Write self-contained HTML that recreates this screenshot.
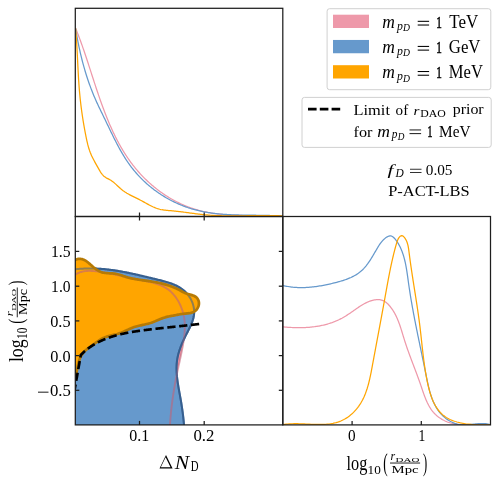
<!DOCTYPE html>
<html><head><meta charset="utf-8"><style>
html,body{margin:0;padding:0;background:#fff;}
body{width:499px;height:486px;overflow:hidden;}
svg{display:block;will-change:transform;}
</style></head><body>
<svg width="499" height="486" viewBox="0 0 499 486">
<defs><clipPath id="cbl"><rect x="75.30" y="216.50" width="207.50" height="208.40"/></clipPath>
<clipPath id="ctl"><rect x="75.30" y="8.30" width="207.50" height="208.20"/></clipPath>
<clipPath id="cbr"><rect x="282.80" y="216.50" width="207.70" height="208.40"/></clipPath></defs>
<rect width="499" height="486" fill="#fff"/>
<g clip-path="url(#cbl)">
<path d="M75.30,274.70 L76.00,274.25 L76.72,273.83 L77.44,273.44 L78.16,273.09 L78.90,272.76 L79.64,272.47 L80.39,272.21 L81.15,271.97 L81.91,271.76 L82.67,271.58 L83.44,271.42 L84.22,271.28 L85.00,271.17 L85.78,271.08 L86.57,271.00 L87.36,270.95 L88.15,270.92 L88.95,270.90 L89.74,270.90 L90.54,270.91 L91.34,270.93 L92.14,270.97 L92.94,271.02 L93.74,271.08 L94.54,271.15 L95.34,271.23 L96.14,271.31 L96.94,271.40 L97.74,271.50 L98.53,271.60 L99.32,271.70 L100.12,271.81 L100.91,271.92 L101.69,272.04 L102.48,272.16 L103.27,272.29 L104.05,272.42 L104.84,272.55 L105.62,272.69 L106.40,272.83 L107.18,272.97 L107.96,273.12 L108.74,273.27 L109.52,273.42 L110.30,273.58 L111.07,273.74 L111.85,273.90 L112.63,274.06 L113.40,274.22 L114.18,274.39 L114.95,274.55 L115.73,274.72 L116.50,274.89 L117.28,275.07 L118.05,275.24 L118.83,275.41 L119.61,275.59 L120.38,275.76 L121.16,275.94 L121.93,276.12 L122.71,276.29 L123.49,276.47 L124.26,276.65 L125.04,276.83 L125.82,277.00 L126.60,277.18 L127.38,277.35 L128.16,277.53 L128.95,277.70 L129.73,277.87 L130.51,278.04 L131.30,278.21 L132.09,278.38 L132.88,278.55 L133.67,278.71 L134.46,278.88 L135.25,279.04 L136.04,279.20 L136.84,279.35 L137.64,279.51 L138.43,279.66 L139.23,279.81 L140.03,279.96 L140.83,280.11 L141.63,280.26 L142.43,280.42 L143.23,280.57 L144.03,280.72 L144.83,280.88 L145.62,281.04 L146.42,281.20 L147.21,281.37 L148.00,281.54 L148.79,281.71 L149.57,281.89 L150.36,282.07 L151.14,282.26 L151.91,282.45 L152.69,282.65 L153.46,282.86 L154.22,283.08 L154.98,283.30 L155.74,283.53 L156.49,283.77 L157.24,284.02 L157.98,284.27 L158.71,284.54 L159.44,284.82 L160.16,285.11 L160.88,285.41 L161.59,285.72 L162.29,286.05 L162.99,286.38 L163.68,286.73 L164.36,287.10 L165.03,287.48 L165.69,287.87 L166.35,288.27 L167.00,288.70 L167.63,289.13 L168.26,289.59 L168.88,290.06 L169.49,290.54 L170.09,291.05 L170.68,291.57 L171.26,292.11 L171.82,292.66 L172.38,293.23 L172.93,293.82 L173.46,294.41 L173.99,295.02 L174.50,295.65 L175.01,296.29 L175.50,296.94 L175.98,297.60 L176.44,298.27 L176.90,298.96 L177.35,299.65 L177.78,300.35 L178.20,301.06 L178.61,301.78 L179.00,302.51 L179.39,303.25 L179.76,303.99 L180.12,304.74 L180.46,305.49 L180.79,306.25 L181.11,307.02 L181.42,307.79 L181.71,308.56 L181.99,309.34 L182.26,310.12 L182.51,310.90 L182.75,311.68 L182.97,312.47 L183.18,313.25 L183.38,314.04 L183.56,314.82 L183.73,315.61 L183.89,316.39 L184.03,317.18 L184.16,317.96 L184.28,318.75 L184.38,319.54 L184.48,320.32 L184.56,321.11 L184.63,321.89 L184.69,322.68 L184.74,323.47 L184.78,324.25 L184.80,325.04 L184.82,325.83 L184.83,326.62 L184.83,327.40 L184.82,328.19 L184.80,328.98 L184.77,329.76 L184.74,330.55 L184.69,331.34 L184.64,332.13 L184.58,332.91 L184.52,333.70 L184.45,334.49 L184.37,335.27 L184.28,336.06 L184.19,336.85 L184.09,337.63 L183.99,338.42 L183.88,339.21 L183.77,339.99 L183.65,340.78 L183.53,341.57 L183.40,342.35 L183.27,343.14 L183.14,343.92 L183.00,344.71 L182.86,345.50 L182.72,346.28 L182.57,347.07 L182.42,347.85 L182.27,348.63 L182.12,349.42 L181.97,350.20 L181.81,350.99 L181.65,351.77 L181.49,352.56 L181.33,353.34 L181.17,354.12 L181.00,354.91 L180.84,355.69 L180.67,356.47 L180.50,357.26 L180.33,358.04 L180.16,358.82 L179.99,359.61 L179.82,360.39 L179.65,361.18 L179.48,361.96 L179.31,362.74 L179.14,363.53 L178.96,364.31 L178.79,365.09 L178.62,365.88 L178.45,366.66 L178.28,367.44 L178.11,368.23 L177.95,369.01 L177.78,369.80 L177.61,370.58 L177.45,371.37 L177.28,372.15 L177.12,372.94 L176.96,373.72 L176.80,374.51 L176.64,375.29 L176.49,376.08 L176.33,376.86 L176.18,377.65 L176.03,378.44 L175.88,379.22 L175.73,380.01 L175.58,380.80 L175.43,381.58 L175.29,382.37 L175.15,383.16 L175.00,383.94 L174.86,384.73 L174.72,385.52 L174.59,386.31 L174.45,387.10 L174.32,387.88 L174.18,388.67 L174.05,389.46 L173.92,390.25 L173.80,391.04 L173.67,391.83 L173.54,392.62 L173.42,393.41 L173.30,394.20 L173.18,394.99 L173.06,395.78 L172.95,396.57 L172.83,397.36 L172.72,398.15 L172.61,398.95 L172.50,399.74 L172.39,400.53 L172.28,401.32 L172.18,402.11 L172.07,402.91 L171.97,403.70 L171.87,404.49 L171.78,405.29 L171.68,406.08 L171.59,406.87 L171.50,407.67 L171.41,408.46 L171.32,409.26 L171.23,410.05 L171.15,410.85 L171.06,411.64 L170.98,412.44 L170.90,413.23 L170.83,414.03 L170.75,414.82 L170.68,415.62 L170.60,416.42 L170.54,417.21 L170.47,418.01 L170.40,418.81 L170.34,419.61 L170.28,420.41 L170.22,421.20 L170.16,422.00 L170.10,422.80 L170.05,423.60 L170.00,424.40 L169.95,425.20 L169.90,426.00 L75.3,430 L70,430 L70,274.70 Z" fill="#EE99AA"/>
<path d="M75.30,269.30 L76.17,269.20 L77.04,269.11 L77.91,269.02 L78.78,268.94 L79.64,268.87 L80.51,268.80 L81.37,268.74 L82.23,268.69 L83.09,268.64 L83.95,268.60 L84.81,268.56 L85.67,268.53 L86.52,268.50 L87.38,268.48 L88.23,268.46 L89.08,268.45 L89.93,268.45 L90.78,268.45 L91.63,268.45 L92.48,268.47 L93.33,268.48 L94.17,268.50 L95.02,268.53 L95.86,268.56 L96.71,268.60 L97.55,268.64 L98.39,268.68 L99.23,268.73 L100.07,268.78 L100.91,268.84 L101.75,268.91 L102.59,268.97 L103.42,269.05 L104.26,269.12 L105.10,269.20 L105.93,269.29 L106.77,269.37 L107.60,269.47 L108.44,269.56 L109.27,269.66 L110.10,269.77 L110.93,269.87 L111.77,269.98 L112.60,270.10 L113.43,270.22 L114.26,270.34 L115.09,270.46 L115.92,270.59 L116.75,270.72 L117.58,270.85 L118.41,270.99 L119.24,271.13 L120.07,271.28 L120.90,271.42 L121.73,271.57 L122.56,271.72 L123.39,271.88 L124.22,272.03 L125.05,272.19 L125.88,272.35 L126.71,272.52 L127.54,272.68 L128.37,272.85 L129.20,273.02 L130.04,273.20 L130.87,273.37 L131.70,273.55 L132.53,273.73 L133.36,273.91 L134.19,274.09 L135.03,274.28 L135.86,274.46 L136.69,274.65 L137.53,274.84 L138.36,275.03 L139.20,275.22 L140.03,275.41 L140.87,275.61 L141.70,275.80 L142.54,276.00 L143.38,276.20 L144.22,276.40 L145.06,276.60 L145.90,276.80 L146.74,277.00 L147.58,277.20 L148.42,277.40 L149.26,277.61 L150.11,277.81 L150.95,278.02 L151.80,278.22 L152.65,278.43 L153.49,278.63 L154.34,278.84 L155.19,279.04 L156.04,279.25 L156.90,279.45 L157.75,279.66 L158.60,279.87 L159.45,280.08 L160.31,280.29 L161.16,280.50 L162.01,280.72 L162.86,280.94 L163.70,281.16 L164.54,281.39 L165.38,281.62 L166.22,281.87 L167.05,282.11 L167.88,282.37 L168.70,282.63 L169.52,282.90 L170.34,283.17 L171.14,283.46 L171.94,283.75 L172.74,284.06 L173.52,284.38 L174.30,284.70 L175.07,285.04 L175.84,285.40 L176.59,285.76 L177.33,286.14 L178.07,286.53 L178.79,286.93 L179.50,287.35 L180.21,287.79 L180.90,288.24 L181.58,288.71 L182.25,289.19 L182.90,289.70 L183.54,290.22 L184.17,290.76 L184.78,291.31 L185.38,291.89 L185.97,292.49 L186.54,293.10 L187.09,293.74 L187.63,294.39 L188.15,295.05 L188.65,295.73 L189.14,296.43 L189.61,297.14 L190.05,297.86 L190.48,298.60 L190.89,299.34 L191.27,300.10 L191.64,300.86 L191.98,301.64 L192.30,302.42 L192.60,303.21 L192.87,304.01 L193.12,304.82 L193.34,305.63 L193.54,306.44 L193.71,307.26 L193.86,308.08 L193.98,308.90 L194.07,309.72 L194.13,310.55 L194.17,311.37 L194.17,312.19 L194.15,313.01 L194.10,313.83 L194.01,314.65 L193.91,315.46 L193.77,316.27 L193.61,317.09 L193.43,317.89 L193.22,318.70 L193.00,319.51 L192.75,320.31 L192.48,321.11 L192.20,321.91 L191.90,322.71 L191.59,323.51 L191.26,324.30 L190.92,325.10 L190.56,325.89 L190.20,326.69 L189.83,327.48 L189.45,328.27 L189.06,329.06 L188.67,329.85 L188.27,330.64 L187.87,331.43 L187.46,332.21 L187.06,333.00 L186.65,333.79 L186.25,334.57 L185.85,335.36 L185.45,336.15 L185.06,336.93 L184.67,337.72 L184.29,338.50 L183.92,339.29 L183.55,340.08 L183.19,340.86 L182.83,341.65 L182.48,342.44 L182.14,343.22 L181.81,344.01 L181.48,344.80 L181.16,345.59 L180.86,346.38 L180.56,347.18 L180.26,347.97 L179.98,348.76 L179.71,349.56 L179.44,350.36 L179.19,351.15 L178.95,351.95 L178.72,352.76 L178.49,353.56 L178.28,354.36 L178.08,355.17 L177.89,355.98 L177.72,356.79 L177.55,357.60 L177.40,358.42 L177.26,359.24 L177.13,360.06 L177.02,360.88 L176.92,361.70 L176.83,362.53 L176.76,363.36 L176.69,364.19 L176.65,365.03 L176.61,365.87 L176.58,366.71 L176.57,367.55 L176.56,368.39 L176.57,369.23 L176.59,370.08 L176.61,370.93 L176.65,371.78 L176.69,372.63 L176.75,373.48 L176.81,374.33 L176.88,375.19 L176.96,376.04 L177.04,376.90 L177.14,377.76 L177.23,378.61 L177.34,379.47 L177.45,380.33 L177.57,381.19 L177.69,382.05 L177.81,382.91 L177.94,383.76 L178.08,384.62 L178.22,385.48 L178.36,386.34 L178.50,387.20 L178.65,388.06 L178.80,388.91 L178.95,389.77 L179.10,390.62 L179.25,391.48 L179.41,392.33 L179.56,393.18 L179.72,394.03 L179.87,394.88 L180.03,395.73 L180.18,396.58 L180.33,397.42 L180.48,398.27 L180.63,399.11 L180.77,399.95 L180.92,400.79 L181.06,401.62 L181.20,402.46 L181.34,403.29 L181.47,404.13 L181.60,404.96 L181.73,405.79 L181.86,406.62 L181.99,407.45 L182.11,408.28 L182.23,409.12 L182.35,409.95 L182.46,410.78 L182.58,411.61 L182.69,412.45 L182.80,413.28 L182.90,414.11 L183.01,414.95 L183.11,415.79 L183.20,416.63 L183.30,417.47 L183.39,418.31 L183.48,419.15 L183.57,420.00 L183.65,420.85 L183.74,421.70 L183.81,422.56 L183.89,423.41 L183.96,424.27 L184.03,425.13 L184.10,426.00 L75.3,430 L70,430 L70,269.30 Z" fill="#6699CC"/>
<path d="M75.30,269.30 L76.17,269.20 L77.04,269.11 L77.91,269.02 L78.78,268.94 L79.64,268.87 L80.51,268.80 L81.37,268.74 L82.23,268.69 L83.09,268.64 L83.95,268.60 L84.81,268.56 L85.67,268.53 L86.52,268.50 L87.38,268.48 L88.23,268.46 L89.08,268.45 L89.93,268.45 L90.78,268.45 L91.63,268.45 L92.48,268.47 L93.33,268.48 L94.17,268.50 L95.02,268.53 L95.86,268.56 L96.71,268.60 L97.55,268.64 L98.39,268.68 L99.23,268.73 L100.07,268.78 L100.91,268.84 L101.75,268.91 L102.59,268.97 L103.42,269.05 L104.26,269.12 L105.10,269.20 L105.93,269.29 L106.77,269.37 L107.60,269.47 L108.44,269.56 L109.27,269.66 L110.10,269.77 L110.93,269.87 L111.77,269.98 L112.60,270.10 L113.43,270.22 L114.26,270.34 L115.09,270.46 L115.92,270.59 L116.75,270.72 L117.58,270.85 L118.41,270.99 L119.24,271.13 L120.07,271.28 L120.90,271.42 L121.73,271.57 L122.56,271.72 L123.39,271.88 L124.22,272.03 L125.05,272.19 L125.88,272.35 L126.71,272.52 L127.54,272.68 L128.37,272.85 L129.20,273.02 L130.04,273.20 L130.87,273.37 L131.70,273.55 L132.53,273.73 L133.36,273.91 L134.19,274.09 L135.03,274.28 L135.86,274.46 L136.69,274.65 L137.53,274.84 L138.36,275.03 L139.20,275.22 L140.03,275.41 L140.87,275.61 L141.70,275.80 L142.54,276.00 L143.38,276.20 L144.22,276.40 L145.06,276.60 L145.90,276.80 L146.74,277.00 L147.58,277.20 L148.42,277.40 L149.26,277.61 L150.11,277.81 L150.95,278.02 L151.80,278.22 L152.65,278.43 L153.49,278.63 L154.34,278.84 L155.19,279.04 L156.04,279.25 L156.90,279.45 L157.75,279.66 L158.60,279.87 L159.45,280.08 L160.31,280.29 L161.16,280.50 L162.01,280.72 L162.86,280.94 L163.70,281.16 L164.54,281.39 L165.38,281.62 L166.22,281.87 L167.05,282.11 L167.88,282.37 L168.70,282.63 L169.52,282.90 L170.34,283.17 L171.14,283.46 L171.94,283.75 L172.74,284.06 L173.52,284.38 L174.30,284.70 L175.07,285.04 L175.84,285.40 L176.59,285.76 L177.33,286.14 L178.07,286.53 L178.79,286.93 L179.50,287.35 L180.21,287.79 L180.90,288.24 L181.58,288.71 L182.25,289.19 L182.90,289.70 L183.54,290.22 L184.17,290.76 L184.78,291.31 L185.38,291.89 L185.97,292.49 L186.54,293.10 L187.09,293.74 L187.63,294.39 L188.15,295.05 L188.65,295.73 L189.14,296.43 L189.61,297.14 L190.05,297.86 L190.48,298.60 L190.89,299.34 L191.27,300.10 L191.64,300.86 L191.98,301.64 L192.30,302.42 L192.60,303.21 L192.87,304.01 L193.12,304.82 L193.34,305.63 L193.54,306.44 L193.71,307.26 L193.86,308.08 L193.98,308.90 L194.07,309.72 L194.13,310.55 L194.17,311.37 L194.17,312.19 L194.15,313.01 L194.10,313.83 L194.01,314.65 L193.91,315.46 L193.77,316.27 L193.61,317.09 L193.43,317.89 L193.22,318.70 L193.00,319.51 L192.75,320.31 L192.48,321.11 L192.20,321.91 L191.90,322.71 L191.59,323.51 L191.26,324.30 L190.92,325.10 L190.56,325.89 L190.20,326.69 L189.83,327.48 L189.45,328.27 L189.06,329.06 L188.67,329.85 L188.27,330.64 L187.87,331.43 L187.46,332.21 L187.06,333.00 L186.65,333.79 L186.25,334.57 L185.85,335.36 L185.45,336.15 L185.06,336.93 L184.67,337.72 L184.29,338.50 L183.92,339.29 L183.55,340.08 L183.19,340.86 L182.83,341.65 L182.48,342.44 L182.14,343.22 L181.81,344.01 L181.48,344.80 L181.16,345.59 L180.86,346.38 L180.56,347.18 L180.26,347.97 L179.98,348.76 L179.71,349.56 L179.44,350.36 L179.19,351.15 L178.95,351.95 L178.72,352.76 L178.49,353.56 L178.28,354.36 L178.08,355.17 L177.89,355.98 L177.72,356.79 L177.55,357.60 L177.40,358.42 L177.26,359.24 L177.13,360.06 L177.02,360.88 L176.92,361.70 L176.83,362.53 L176.76,363.36 L176.69,364.19 L176.65,365.03 L176.61,365.87 L176.58,366.71 L176.57,367.55 L176.56,368.39 L176.57,369.23 L176.59,370.08 L176.61,370.93 L176.65,371.78 L176.69,372.63 L176.75,373.48 L176.81,374.33 L176.88,375.19 L176.96,376.04 L177.04,376.90 L177.14,377.76 L177.23,378.61 L177.34,379.47 L177.45,380.33 L177.57,381.19 L177.69,382.05 L177.81,382.91 L177.94,383.76 L178.08,384.62 L178.22,385.48 L178.36,386.34 L178.50,387.20 L178.65,388.06 L178.80,388.91 L178.95,389.77 L179.10,390.62 L179.25,391.48 L179.41,392.33 L179.56,393.18 L179.72,394.03 L179.87,394.88 L180.03,395.73 L180.18,396.58 L180.33,397.42 L180.48,398.27 L180.63,399.11 L180.77,399.95 L180.92,400.79 L181.06,401.62 L181.20,402.46 L181.34,403.29 L181.47,404.13 L181.60,404.96 L181.73,405.79 L181.86,406.62 L181.99,407.45 L182.11,408.28 L182.23,409.12 L182.35,409.95 L182.46,410.78 L182.58,411.61 L182.69,412.45 L182.80,413.28 L182.90,414.11 L183.01,414.95 L183.11,415.79 L183.20,416.63 L183.30,417.47 L183.39,418.31 L183.48,419.15 L183.57,420.00 L183.65,420.85 L183.74,421.70 L183.81,422.56 L183.89,423.41 L183.96,424.27 L184.03,425.13 L184.10,426.00" fill="none" stroke="#375F8F" stroke-width="2.0"/>
<path d="M75.30,259.90 L76.35,259.46 L77.38,259.15 L78.37,258.95 L79.34,258.86 L80.29,258.87 L81.21,258.98 L82.10,259.17 L82.98,259.45 L83.83,259.79 L84.67,260.20 L85.49,260.67 L86.30,261.18 L87.09,261.74 L87.87,262.33 L88.64,262.96 L89.40,263.60 L90.15,264.26 L90.90,264.92 L91.64,265.58 L92.39,266.25 L93.13,266.90 L93.87,267.55 L94.63,268.17 L95.38,268.78 L96.15,269.36 L96.93,269.91 L97.73,270.43 L98.54,270.91 L99.37,271.34 L100.22,271.72 L101.09,272.05 L101.99,272.33 L102.91,272.56 L103.85,272.74 L104.81,272.89 L105.78,273.00 L106.76,273.10 L107.75,273.17 L108.75,273.23 L109.75,273.28 L110.76,273.33 L111.76,273.39 L112.76,273.46 L113.76,273.55 L114.75,273.66 L115.72,273.81 L116.69,273.98 L117.64,274.20 L118.57,274.44 L119.50,274.72 L120.43,275.01 L121.34,275.31 L122.25,275.63 L123.16,275.95 L124.07,276.26 L124.99,276.58 L125.90,276.88 L126.82,277.16 L127.75,277.43 L128.68,277.69 L129.61,277.93 L130.55,278.16 L131.50,278.37 L132.44,278.57 L133.39,278.76 L134.35,278.94 L135.31,279.12 L136.26,279.28 L137.23,279.44 L138.19,279.59 L139.16,279.74 L140.12,279.88 L141.09,280.02 L142.06,280.15 L143.03,280.29 L144.00,280.42 L144.97,280.55 L145.94,280.69 L146.91,280.83 L147.87,280.96 L148.84,281.11 L149.80,281.25 L150.77,281.40 L151.73,281.55 L152.69,281.71 L153.65,281.87 L154.61,282.04 L155.57,282.22 L156.52,282.40 L157.48,282.58 L158.43,282.78 L159.38,282.98 L160.33,283.19 L161.27,283.40 L162.21,283.63 L163.15,283.86 L164.09,284.11 L165.02,284.36 L165.96,284.63 L166.88,284.90 L167.81,285.19 L168.73,285.49 L169.65,285.80 L170.57,286.12 L171.48,286.45 L172.39,286.80 L173.30,287.16 L174.20,287.54 L175.10,287.92 L175.99,288.33 L176.88,288.74 L177.76,289.17 L178.63,289.62 L179.50,290.07 L180.35,290.53 L181.20,291.01 L182.04,291.49 L182.88,291.97 L183.72,292.42 L184.57,292.85 L185.44,293.23 L186.33,293.56 L187.24,293.84 L188.18,294.09 L189.12,294.33 L190.08,294.57 L191.04,294.83 L192.00,295.11 L192.94,295.44 L193.85,295.81 L194.71,296.24 L195.53,296.73 L196.28,297.29 L196.96,297.94 L197.56,298.68 L198.06,299.51 L198.45,300.41 L198.74,301.36 L198.91,302.35 L198.96,303.35 L198.90,304.36 L198.72,305.35 L198.44,306.32 L198.07,307.26 L197.61,308.15 L197.08,308.99 L196.47,309.75 L195.80,310.44 L195.07,311.03 L194.30,311.53 L193.47,311.96 L192.61,312.32 L191.71,312.61 L190.79,312.86 L189.83,313.05 L188.86,313.21 L187.87,313.34 L186.87,313.45 L185.86,313.55 L184.86,313.64 L183.86,313.74 L182.86,313.85 L181.89,313.98 L180.92,314.12 L179.97,314.29 L179.03,314.47 L178.10,314.66 L177.17,314.85 L176.24,315.05 L175.31,315.24 L174.37,315.42 L173.42,315.60 L172.47,315.77 L171.51,315.94 L170.56,316.11 L169.60,316.28 L168.64,316.47 L167.68,316.67 L166.74,316.90 L165.80,317.14 L164.87,317.42 L163.94,317.72 L163.03,318.04 L162.12,318.37 L161.21,318.73 L160.31,319.09 L159.42,319.47 L158.52,319.85 L157.63,320.23 L156.73,320.61 L155.84,320.99 L154.94,321.37 L154.04,321.73 L153.14,322.09 L152.23,322.43 L151.32,322.75 L150.40,323.05 L149.47,323.33 L148.54,323.59 L147.60,323.83 L146.65,324.06 L145.70,324.28 L144.75,324.49 L143.80,324.70 L142.84,324.90 L141.89,325.10 L140.94,325.31 L139.98,325.51 L139.03,325.73 L138.09,325.96 L137.14,326.20 L136.21,326.45 L135.28,326.73 L134.35,327.02 L133.43,327.34 L132.53,327.68 L131.62,328.04 L130.72,328.42 L129.83,328.81 L128.94,329.21 L128.05,329.61 L127.16,330.02 L126.28,330.43 L125.39,330.84 L124.50,331.25 L123.61,331.64 L122.72,332.03 L121.82,332.40 L120.91,332.76 L120.00,333.09 L119.08,333.41 L118.16,333.69 L117.23,333.96 L116.29,334.21 L115.34,334.44 L114.39,334.67 L113.44,334.89 L112.49,335.11 L111.53,335.33 L110.58,335.57 L109.63,335.81 L108.68,336.07 L107.74,336.35 L106.80,336.65 L105.88,336.97 L104.96,337.31 L104.07,337.67 L103.18,338.07 L102.32,338.49 L101.47,338.95 L100.64,339.43 L99.82,339.93 L99.02,340.46 L98.22,341.00 L97.43,341.55 L96.64,342.11 L95.85,342.68 L95.06,343.26 L94.27,343.83 L93.46,344.40 L92.65,344.97 L91.84,345.54 L91.03,346.11 L90.22,346.68 L89.42,347.26 L88.63,347.85 L87.84,348.45 L87.08,349.06 L86.33,349.69 L85.60,350.33 L84.90,350.99 L84.22,351.67 L83.57,352.38 L82.95,353.10 L82.37,353.86 L81.83,354.64 L81.32,355.45 L80.86,356.30 L80.43,357.16 L80.04,358.05 L79.69,358.96 L79.36,359.88 L79.06,360.82 L78.78,361.76 L78.53,362.71 L78.30,363.66 L78.09,364.62 L77.89,365.57 L77.69,366.53 L77.51,367.49 L77.32,368.44 L77.14,369.40 L76.95,370.36 L76.75,371.31 L76.54,372.26 L76.31,373.20 L76.06,374.14 L75.79,375.07 L75.50,376.00 L70,376.00 L70,259.90 Z" fill="#FFA500"/>
<path d="M75.30,274.70 L76.00,274.25 L76.72,273.83 L77.44,273.44 L78.16,273.09 L78.90,272.76 L79.64,272.47 L80.39,272.21 L81.15,271.97 L81.91,271.76 L82.67,271.58 L83.44,271.42 L84.22,271.28 L85.00,271.17 L85.78,271.08 L86.57,271.00 L87.36,270.95 L88.15,270.92 L88.95,270.90 L89.74,270.90 L90.54,270.91 L91.34,270.93 L92.14,270.97 L92.94,271.02 L93.74,271.08 L94.54,271.15 L95.34,271.23 L96.14,271.31 L96.94,271.40 L97.74,271.50 L98.53,271.60 L99.32,271.70 L100.12,271.81 L100.91,271.92 L101.69,272.04 L102.48,272.16 L103.27,272.29 L104.05,272.42 L104.84,272.55 L105.62,272.69 L106.40,272.83 L107.18,272.97 L107.96,273.12 L108.74,273.27 L109.52,273.42 L110.30,273.58 L111.07,273.74 L111.85,273.90 L112.63,274.06 L113.40,274.22 L114.18,274.39 L114.95,274.55 L115.73,274.72 L116.50,274.89 L117.28,275.07 L118.05,275.24 L118.83,275.41 L119.61,275.59 L120.38,275.76 L121.16,275.94 L121.93,276.12 L122.71,276.29 L123.49,276.47 L124.26,276.65 L125.04,276.83 L125.82,277.00 L126.60,277.18 L127.38,277.35 L128.16,277.53 L128.95,277.70 L129.73,277.87 L130.51,278.04 L131.30,278.21 L132.09,278.38 L132.88,278.55 L133.67,278.71 L134.46,278.88 L135.25,279.04 L136.04,279.20 L136.84,279.35 L137.64,279.51 L138.43,279.66 L139.23,279.81 L140.03,279.96 L140.83,280.11 L141.63,280.26 L142.43,280.42 L143.23,280.57 L144.03,280.72 L144.83,280.88 L145.62,281.04 L146.42,281.20 L147.21,281.37 L148.00,281.54 L148.79,281.71 L149.57,281.89 L150.36,282.07 L151.14,282.26 L151.91,282.45 L152.69,282.65 L153.46,282.86 L154.22,283.08 L154.98,283.30 L155.74,283.53 L156.49,283.77 L157.24,284.02 L157.98,284.27 L158.71,284.54 L159.44,284.82 L160.16,285.11 L160.88,285.41 L161.59,285.72 L162.29,286.05 L162.99,286.38 L163.68,286.73 L164.36,287.10 L165.03,287.48 L165.69,287.87 L166.35,288.27 L167.00,288.70 L167.63,289.13 L168.26,289.59 L168.88,290.06 L169.49,290.54 L170.09,291.05 L170.68,291.57 L171.26,292.11 L171.82,292.66 L172.38,293.23 L172.93,293.82 L173.46,294.41 L173.99,295.02 L174.50,295.65 L175.01,296.29 L175.50,296.94 L175.98,297.60 L176.44,298.27 L176.90,298.96 L177.35,299.65 L177.78,300.35 L178.20,301.06 L178.61,301.78 L179.00,302.51 L179.39,303.25 L179.76,303.99 L180.12,304.74 L180.46,305.49 L180.79,306.25 L181.11,307.02 L181.42,307.79 L181.71,308.56 L181.99,309.34 L182.26,310.12 L182.51,310.90 L182.75,311.68 L182.97,312.47 L183.18,313.25 L183.38,314.04 L183.56,314.82 L183.73,315.61 L183.89,316.39 L184.03,317.18 L184.16,317.96 L184.28,318.75 L184.38,319.54 L184.48,320.32 L184.56,321.11 L184.63,321.89 L184.69,322.68 L184.74,323.47 L184.78,324.25 L184.80,325.04 L184.82,325.83 L184.83,326.62 L184.83,327.40 L184.82,328.19 L184.80,328.98 L184.77,329.76 L184.74,330.55 L184.69,331.34 L184.64,332.13 L184.58,332.91 L184.52,333.70 L184.45,334.49 L184.37,335.27 L184.28,336.06 L184.19,336.85 L184.09,337.63 L183.99,338.42 L183.88,339.21 L183.77,339.99 L183.65,340.78 L183.53,341.57 L183.40,342.35 L183.27,343.14 L183.14,343.92 L183.00,344.71 L182.86,345.50 L182.72,346.28 L182.57,347.07 L182.42,347.85 L182.27,348.63 L182.12,349.42 L181.97,350.20 L181.81,350.99 L181.65,351.77 L181.49,352.56 L181.33,353.34 L181.17,354.12 L181.00,354.91 L180.84,355.69 L180.67,356.47 L180.50,357.26 L180.33,358.04 L180.16,358.82 L179.99,359.61 L179.82,360.39 L179.65,361.18 L179.48,361.96 L179.31,362.74 L179.14,363.53 L178.96,364.31 L178.79,365.09 L178.62,365.88 L178.45,366.66 L178.28,367.44 L178.11,368.23 L177.95,369.01 L177.78,369.80 L177.61,370.58 L177.45,371.37 L177.28,372.15 L177.12,372.94 L176.96,373.72 L176.80,374.51 L176.64,375.29 L176.49,376.08 L176.33,376.86 L176.18,377.65 L176.03,378.44 L175.88,379.22 L175.73,380.01 L175.58,380.80 L175.43,381.58 L175.29,382.37 L175.15,383.16 L175.00,383.94 L174.86,384.73 L174.72,385.52 L174.59,386.31 L174.45,387.10 L174.32,387.88 L174.18,388.67 L174.05,389.46 L173.92,390.25 L173.80,391.04 L173.67,391.83 L173.54,392.62 L173.42,393.41 L173.30,394.20 L173.18,394.99 L173.06,395.78 L172.95,396.57 L172.83,397.36 L172.72,398.15 L172.61,398.95 L172.50,399.74 L172.39,400.53 L172.28,401.32 L172.18,402.11 L172.07,402.91 L171.97,403.70 L171.87,404.49 L171.78,405.29 L171.68,406.08 L171.59,406.87 L171.50,407.67 L171.41,408.46 L171.32,409.26 L171.23,410.05 L171.15,410.85 L171.06,411.64 L170.98,412.44 L170.90,413.23 L170.83,414.03 L170.75,414.82 L170.68,415.62 L170.60,416.42 L170.54,417.21 L170.47,418.01 L170.40,418.81 L170.34,419.61 L170.28,420.41 L170.22,421.20 L170.16,422.00 L170.10,422.80 L170.05,423.60 L170.00,424.40 L169.95,425.20 L169.90,426.00" fill="none" stroke="#C06478" stroke-width="1.9" opacity="0.60"/>
<path d="M75.30,269.30 L76.17,269.20 L77.04,269.11 L77.91,269.02 L78.78,268.94 L79.64,268.87 L80.51,268.80 L81.37,268.74 L82.23,268.69 L83.09,268.64 L83.95,268.60 L84.81,268.56 L85.67,268.53 L86.52,268.50 L87.38,268.48 L88.23,268.46 L89.08,268.45 L89.93,268.45 L90.78,268.45 L91.63,268.45 L92.48,268.47 L93.33,268.48 L94.17,268.50 L95.02,268.53 L95.86,268.56 L96.71,268.60 L97.55,268.64 L98.39,268.68 L99.23,268.73 L100.07,268.78 L100.91,268.84 L101.75,268.91 L102.59,268.97 L103.42,269.05 L104.26,269.12 L105.10,269.20 L105.93,269.29 L106.77,269.37 L107.60,269.47 L108.44,269.56 L109.27,269.66 L110.10,269.77 L110.93,269.87 L111.77,269.98 L112.60,270.10 L113.43,270.22 L114.26,270.34 L115.09,270.46 L115.92,270.59 L116.75,270.72 L117.58,270.85 L118.41,270.99 L119.24,271.13 L120.07,271.28 L120.90,271.42 L121.73,271.57 L122.56,271.72 L123.39,271.88 L124.22,272.03 L125.05,272.19 L125.88,272.35 L126.71,272.52 L127.54,272.68 L128.37,272.85 L129.20,273.02 L130.04,273.20 L130.87,273.37 L131.70,273.55 L132.53,273.73 L133.36,273.91 L134.19,274.09 L135.03,274.28 L135.86,274.46 L136.69,274.65 L137.53,274.84 L138.36,275.03 L139.20,275.22 L140.03,275.41 L140.87,275.61 L141.70,275.80 L142.54,276.00 L143.38,276.20 L144.22,276.40 L145.06,276.60 L145.90,276.80 L146.74,277.00 L147.58,277.20 L148.42,277.40 L149.26,277.61 L150.11,277.81 L150.95,278.02 L151.80,278.22 L152.65,278.43 L153.49,278.63 L154.34,278.84 L155.19,279.04 L156.04,279.25 L156.90,279.45 L157.75,279.66 L158.60,279.87 L159.45,280.08 L160.31,280.29 L161.16,280.50 L162.01,280.72 L162.86,280.94 L163.70,281.16 L164.54,281.39 L165.38,281.62 L166.22,281.87 L167.05,282.11 L167.88,282.37 L168.70,282.63 L169.52,282.90 L170.34,283.17 L171.14,283.46 L171.94,283.75 L172.74,284.06 L173.52,284.38 L174.30,284.70 L175.07,285.04 L175.84,285.40 L176.59,285.76 L177.33,286.14 L178.07,286.53 L178.79,286.93 L179.50,287.35 L180.21,287.79 L180.90,288.24 L181.58,288.71 L182.25,289.19 L182.90,289.70 L183.54,290.22 L184.17,290.76 L184.78,291.31 L185.38,291.89 L185.97,292.49 L186.54,293.10 L187.09,293.74 L187.63,294.39 L188.15,295.05 L188.65,295.73 L189.14,296.43 L189.61,297.14 L190.05,297.86 L190.48,298.60 L190.89,299.34 L191.27,300.10 L191.64,300.86 L191.98,301.64 L192.30,302.42 L192.60,303.21 L192.87,304.01 L193.12,304.82 L193.34,305.63 L193.54,306.44 L193.71,307.26 L193.86,308.08 L193.98,308.90 L194.07,309.72 L194.13,310.55 L194.17,311.37 L194.17,312.19 L194.15,313.01 L194.10,313.83 L194.01,314.65 L193.91,315.46 L193.77,316.27 L193.61,317.09 L193.43,317.89 L193.22,318.70 L193.00,319.51 L192.75,320.31 L192.48,321.11 L192.20,321.91 L191.90,322.71 L191.59,323.51 L191.26,324.30 L190.92,325.10 L190.56,325.89 L190.20,326.69 L189.83,327.48 L189.45,328.27 L189.06,329.06 L188.67,329.85 L188.27,330.64 L187.87,331.43 L187.46,332.21 L187.06,333.00 L186.65,333.79 L186.25,334.57 L185.85,335.36 L185.45,336.15 L185.06,336.93 L184.67,337.72 L184.29,338.50 L183.92,339.29 L183.55,340.08 L183.19,340.86 L182.83,341.65 L182.48,342.44 L182.14,343.22 L181.81,344.01 L181.48,344.80 L181.16,345.59 L180.86,346.38 L180.56,347.18 L180.26,347.97 L179.98,348.76 L179.71,349.56 L179.44,350.36 L179.19,351.15 L178.95,351.95 L178.72,352.76 L178.49,353.56 L178.28,354.36 L178.08,355.17 L177.89,355.98 L177.72,356.79 L177.55,357.60 L177.40,358.42 L177.26,359.24 L177.13,360.06 L177.02,360.88 L176.92,361.70 L176.83,362.53 L176.76,363.36 L176.69,364.19 L176.65,365.03 L176.61,365.87 L176.58,366.71 L176.57,367.55 L176.56,368.39 L176.57,369.23 L176.59,370.08 L176.61,370.93 L176.65,371.78 L176.69,372.63 L176.75,373.48 L176.81,374.33 L176.88,375.19 L176.96,376.04 L177.04,376.90 L177.14,377.76 L177.23,378.61 L177.34,379.47 L177.45,380.33 L177.57,381.19 L177.69,382.05 L177.81,382.91 L177.94,383.76 L178.08,384.62 L178.22,385.48 L178.36,386.34 L178.50,387.20 L178.65,388.06 L178.80,388.91 L178.95,389.77 L179.10,390.62 L179.25,391.48 L179.41,392.33 L179.56,393.18 L179.72,394.03 L179.87,394.88 L180.03,395.73 L180.18,396.58 L180.33,397.42 L180.48,398.27 L180.63,399.11 L180.77,399.95 L180.92,400.79 L181.06,401.62 L181.20,402.46 L181.34,403.29 L181.47,404.13 L181.60,404.96 L181.73,405.79 L181.86,406.62 L181.99,407.45 L182.11,408.28 L182.23,409.12 L182.35,409.95 L182.46,410.78 L182.58,411.61 L182.69,412.45 L182.80,413.28 L182.90,414.11 L183.01,414.95 L183.11,415.79 L183.20,416.63 L183.30,417.47 L183.39,418.31 L183.48,419.15 L183.57,420.00 L183.65,420.85 L183.74,421.70 L183.81,422.56 L183.89,423.41 L183.96,424.27 L184.03,425.13 L184.10,426.00" fill="none" stroke="#375F8F" stroke-width="2.0" opacity="0.55"/>
<path d="M75.30,259.90 L76.35,259.46 L77.38,259.15 L78.37,258.95 L79.34,258.86 L80.29,258.87 L81.21,258.98 L82.10,259.17 L82.98,259.45 L83.83,259.79 L84.67,260.20 L85.49,260.67 L86.30,261.18 L87.09,261.74 L87.87,262.33 L88.64,262.96 L89.40,263.60 L90.15,264.26 L90.90,264.92 L91.64,265.58 L92.39,266.25 L93.13,266.90 L93.87,267.55 L94.63,268.17 L95.38,268.78 L96.15,269.36 L96.93,269.91 L97.73,270.43 L98.54,270.91 L99.37,271.34 L100.22,271.72 L101.09,272.05 L101.99,272.33 L102.91,272.56 L103.85,272.74 L104.81,272.89 L105.78,273.00 L106.76,273.10 L107.75,273.17 L108.75,273.23 L109.75,273.28 L110.76,273.33 L111.76,273.39 L112.76,273.46 L113.76,273.55 L114.75,273.66 L115.72,273.81 L116.69,273.98 L117.64,274.20 L118.57,274.44 L119.50,274.72 L120.43,275.01 L121.34,275.31 L122.25,275.63 L123.16,275.95 L124.07,276.26 L124.99,276.58 L125.90,276.88 L126.82,277.16 L127.75,277.43 L128.68,277.69 L129.61,277.93 L130.55,278.16 L131.50,278.37 L132.44,278.57 L133.39,278.76 L134.35,278.94 L135.31,279.12 L136.26,279.28 L137.23,279.44 L138.19,279.59 L139.16,279.74 L140.12,279.88 L141.09,280.02 L142.06,280.15 L143.03,280.29 L144.00,280.42 L144.97,280.55 L145.94,280.69 L146.91,280.83 L147.87,280.96 L148.84,281.11 L149.80,281.25 L150.77,281.40 L151.73,281.55 L152.69,281.71 L153.65,281.87 L154.61,282.04 L155.57,282.22 L156.52,282.40 L157.48,282.58 L158.43,282.78 L159.38,282.98 L160.33,283.19 L161.27,283.40 L162.21,283.63 L163.15,283.86 L164.09,284.11 L165.02,284.36 L165.96,284.63 L166.88,284.90 L167.81,285.19 L168.73,285.49 L169.65,285.80 L170.57,286.12 L171.48,286.45 L172.39,286.80 L173.30,287.16 L174.20,287.54 L175.10,287.92 L175.99,288.33 L176.88,288.74 L177.76,289.17 L178.63,289.62 L179.50,290.07 L180.35,290.53 L181.20,291.01 L182.04,291.49 L182.88,291.97 L183.72,292.42 L184.57,292.85 L185.44,293.23 L186.33,293.56 L187.24,293.84 L188.18,294.09 L189.12,294.33 L190.08,294.57 L191.04,294.83 L192.00,295.11 L192.94,295.44 L193.85,295.81 L194.71,296.24 L195.53,296.73 L196.28,297.29 L196.96,297.94 L197.56,298.68 L198.06,299.51 L198.45,300.41 L198.74,301.36 L198.91,302.35 L198.96,303.35 L198.90,304.36 L198.72,305.35 L198.44,306.32 L198.07,307.26 L197.61,308.15 L197.08,308.99 L196.47,309.75 L195.80,310.44 L195.07,311.03 L194.30,311.53 L193.47,311.96 L192.61,312.32 L191.71,312.61 L190.79,312.86 L189.83,313.05 L188.86,313.21 L187.87,313.34 L186.87,313.45 L185.86,313.55 L184.86,313.64 L183.86,313.74 L182.86,313.85 L181.89,313.98 L180.92,314.12 L179.97,314.29 L179.03,314.47 L178.10,314.66 L177.17,314.85 L176.24,315.05 L175.31,315.24 L174.37,315.42 L173.42,315.60 L172.47,315.77 L171.51,315.94 L170.56,316.11 L169.60,316.28 L168.64,316.47 L167.68,316.67 L166.74,316.90 L165.80,317.14 L164.87,317.42 L163.94,317.72 L163.03,318.04 L162.12,318.37 L161.21,318.73 L160.31,319.09 L159.42,319.47 L158.52,319.85 L157.63,320.23 L156.73,320.61 L155.84,320.99 L154.94,321.37 L154.04,321.73 L153.14,322.09 L152.23,322.43 L151.32,322.75 L150.40,323.05 L149.47,323.33 L148.54,323.59 L147.60,323.83 L146.65,324.06 L145.70,324.28 L144.75,324.49 L143.80,324.70 L142.84,324.90 L141.89,325.10 L140.94,325.31 L139.98,325.51 L139.03,325.73 L138.09,325.96 L137.14,326.20 L136.21,326.45 L135.28,326.73 L134.35,327.02 L133.43,327.34 L132.53,327.68 L131.62,328.04 L130.72,328.42 L129.83,328.81 L128.94,329.21 L128.05,329.61 L127.16,330.02 L126.28,330.43 L125.39,330.84 L124.50,331.25 L123.61,331.64 L122.72,332.03 L121.82,332.40 L120.91,332.76 L120.00,333.09 L119.08,333.41 L118.16,333.69 L117.23,333.96 L116.29,334.21 L115.34,334.44 L114.39,334.67 L113.44,334.89 L112.49,335.11 L111.53,335.33 L110.58,335.57 L109.63,335.81 L108.68,336.07 L107.74,336.35 L106.80,336.65 L105.88,336.97 L104.96,337.31 L104.07,337.67 L103.18,338.07 L102.32,338.49 L101.47,338.95 L100.64,339.43 L99.82,339.93 L99.02,340.46 L98.22,341.00 L97.43,341.55 L96.64,342.11 L95.85,342.68 L95.06,343.26 L94.27,343.83 L93.46,344.40 L92.65,344.97 L91.84,345.54 L91.03,346.11 L90.22,346.68 L89.42,347.26 L88.63,347.85 L87.84,348.45 L87.08,349.06 L86.33,349.69 L85.60,350.33 L84.90,350.99 L84.22,351.67 L83.57,352.38 L82.95,353.10 L82.37,353.86 L81.83,354.64 L81.32,355.45 L80.86,356.30 L80.43,357.16 L80.04,358.05 L79.69,358.96 L79.36,359.88 L79.06,360.82 L78.78,361.76 L78.53,362.71 L78.30,363.66 L78.09,364.62 L77.89,365.57 L77.69,366.53 L77.51,367.49 L77.32,368.44 L77.14,369.40 L76.95,370.36 L76.75,371.31 L76.54,372.26 L76.31,373.20 L76.06,374.14 L75.79,375.07 L75.50,376.00" fill="none" stroke="#B67A04" stroke-width="2.7"/>
<path d="M74.60,390.00 L74.81,388.79 L75.03,387.59 L75.24,386.38 L75.46,385.17 L75.67,383.97 L75.88,382.76 L76.10,381.55 L76.31,380.34 L76.52,379.14 L76.74,377.93 L76.95,376.72 L77.17,375.52 L77.38,374.31 L77.59,373.10 L77.81,371.90 L78.02,370.69 L78.23,369.48 L78.45,368.28 L78.66,367.07 L78.88,365.86 L79.09,364.66 L79.30,363.45 L79.52,362.24 L79.73,361.03 L79.94,359.83 L80.16,358.62 L80.37,357.41 L80.59,356.21 L80.80,355.00 L81.05,354.74 L81.30,354.48 L81.55,354.23 L81.81,353.97 L82.06,353.72 L82.31,353.47 L82.57,353.23 L82.83,352.98 L83.09,352.73 L83.35,352.49 L83.61,352.25 L83.87,352.01 L84.13,351.78 L84.40,351.54 L84.66,351.31 L84.93,351.08 L85.20,350.85 L85.47,350.62 L85.74,350.39 L86.01,350.17 L86.28,349.94 L86.55,349.72 L86.83,349.50 L87.10,349.29 L87.38,349.07 L87.65,348.86 L87.93,348.64 L88.21,348.43 L88.49,348.22 L88.77,348.02 L89.05,347.81 L89.34,347.61 L89.62,347.40 L89.91,347.20 L90.19,347.00 L90.48,346.81 L90.77,346.61 L91.05,346.42 L91.34,346.22 L91.63,346.03 L91.92,345.84 L92.22,345.66 L92.51,345.47 L92.80,345.28 L93.10,345.10 L93.39,344.92 L93.69,344.74 L93.99,344.56 L94.28,344.38 L94.58,344.21 L94.88,344.03 L95.18,343.86 L95.48,343.69 L95.78,343.52 L96.09,343.35 L96.39,343.18 L96.69,343.02 L97.00,342.85 L97.30,342.69 L97.61,342.53 L97.92,342.37 L98.23,342.21 L98.53,342.06 L98.84,341.90 L99.15,341.75 L99.46,341.59 L99.77,341.44 L100.09,341.29 L100.40,341.14 L100.71,341.00 L101.03,340.85 L101.34,340.71 L101.66,340.56 L101.97,340.42 L102.29,340.28 L102.60,340.14 L102.92,340.00 L103.24,339.86 L103.56,339.73 L103.88,339.59 L104.20,339.46 L104.52,339.33 L104.84,339.20 L105.16,339.07 L105.48,338.94 L105.80,338.81 L106.13,338.69 L106.45,338.56 L106.78,338.44 L107.10,338.32 L107.43,338.20 L107.75,338.08 L108.08,337.96 L108.40,337.84 L108.73,337.72 L109.06,337.61 L109.38,337.50 L109.71,337.38 L110.04,337.27 L110.37,337.16 L110.70,337.05 L111.03,336.94 L111.36,336.83 L111.69,336.73 L112.02,336.62 L112.35,336.52 L112.69,336.41 L113.02,336.31 L113.35,336.21 L113.68,336.11 L114.02,336.01 L114.35,335.91 L114.68,335.81 L115.02,335.72 L115.35,335.62 L115.69,335.53 L116.02,335.43 L116.36,335.34 L116.69,335.25 L117.03,335.16 L117.37,335.07 L117.70,334.98 L118.04,334.89 L118.38,334.80 L118.72,334.72 L119.05,334.63 L119.39,334.55 L119.73,334.46 L120.07,334.38 L120.41,334.30 L120.75,334.22 L121.09,334.14 L121.43,334.06 L121.77,333.98 L122.11,333.90 L122.45,333.82 L122.79,333.75 L123.13,333.67 L123.48,333.60 L123.82,333.52 L124.16,333.45 L124.50,333.38 L124.84,333.31 L125.19,333.23 L125.53,333.16 L125.87,333.09 L126.22,333.02 L126.56,332.96 L126.90,332.89 L127.25,332.82 L127.59,332.75 L127.94,332.69 L128.28,332.62 L128.63,332.56 L128.97,332.50 L129.32,332.43 L129.66,332.37 L130.01,332.31 L130.35,332.25 L130.70,332.19 L131.04,332.12 L131.39,332.07 L131.74,332.01 L132.08,331.95 L132.43,331.89 L132.78,331.83 L133.12,331.77 L133.47,331.72 L133.82,331.66 L134.16,331.61 L134.51,331.55 L134.86,331.50 L135.21,331.44 L135.55,331.39 L135.90,331.33 L136.25,331.28 L136.60,331.23 L136.94,331.18 L137.29,331.13 L137.64,331.07 L137.99,331.02 L138.33,330.97 L138.68,330.92 L139.03,330.87 L139.38,330.82 L139.73,330.78 L140.08,330.73 L140.42,330.68 L140.77,330.63 L141.12,330.58 L141.47,330.54 L141.82,330.49 L142.17,330.44 L142.51,330.40 L142.86,330.35 L143.21,330.30 L143.56,330.26 L143.91,330.21 L144.26,330.17 L144.61,330.12 L144.95,330.08 L145.30,330.03 L145.65,329.99 L146.00,329.95 L146.35,329.90 L146.70,329.86 L147.04,329.81 L147.39,329.77 L147.74,329.73 L148.09,329.69 L148.44,329.64 L148.78,329.60 L149.13,329.56 L149.48,329.52 L149.83,329.47 L150.18,329.43 L150.52,329.39 L150.87,329.35 L151.22,329.31 L151.57,329.26 L151.91,329.22 L152.26,329.18 L152.61,329.14 L152.96,329.10 L153.31,329.06 L153.65,329.02 L154.00,328.98 L154.35,328.94 L154.69,328.90 L155.04,328.86 L155.39,328.82 L155.74,328.78 L156.08,328.74 L156.43,328.70 L156.78,328.66 L157.13,328.62 L157.47,328.58 L157.82,328.54 L158.17,328.50 L158.51,328.46 L158.86,328.42 L159.21,328.38 L159.56,328.35 L159.90,328.31 L160.25,328.27 L160.60,328.23 L160.94,328.19 L161.29,328.15 L161.64,328.12 L161.98,328.08 L162.33,328.04 L162.68,328.00 L163.03,327.96 L163.37,327.93 L163.72,327.89 L164.07,327.85 L164.41,327.81 L164.76,327.78 L165.11,327.74 L165.45,327.70 L165.80,327.66 L166.15,327.63 L166.49,327.59 L166.84,327.55 L167.19,327.51 L167.53,327.48 L167.88,327.44 L168.23,327.40 L168.57,327.37 L168.92,327.33 L169.27,327.29 L169.61,327.25 L169.96,327.22 L170.31,327.18 L170.65,327.14 L171.00,327.11 L171.35,327.07 L171.69,327.03 L172.04,327.00 L172.38,326.96 L172.73,326.92 L173.08,326.89 L173.42,326.85 L173.77,326.81 L174.12,326.78 L174.46,326.74 L174.81,326.70 L175.16,326.66 L175.50,326.63 L175.85,326.59 L176.20,326.55 L176.54,326.52 L176.89,326.48 L177.24,326.44 L177.58,326.41 L177.93,326.37 L178.28,326.33 L178.62,326.30 L178.97,326.26 L179.32,326.22 L179.66,326.19 L180.01,326.15 L180.36,326.11 L180.70,326.07 L181.05,326.04 L181.40,326.00 L181.74,325.96 L182.09,325.92 L182.44,325.89 L182.78,325.85 L183.13,325.81 L183.48,325.77 L183.82,325.74 L184.17,325.70 L184.52,325.66 L184.86,325.62 L185.21,325.59 L185.56,325.55 L185.90,325.51 L186.25,325.47 L186.60,325.43 L186.94,325.39 L187.29,325.36 L187.64,325.32 L187.99,325.28 L188.33,325.24 L188.68,325.20 L189.03,325.16 L189.37,325.12 L189.72,325.09 L190.07,325.05 L190.42,325.01 L190.76,324.97 L191.11,324.93 L191.46,324.89 L191.80,324.85 L192.15,324.81 L192.50,324.77 L192.85,324.73 L193.19,324.69 L193.54,324.65 L193.89,324.61 L194.24,324.57 L194.58,324.53 L194.93,324.49 L195.28,324.45 L195.63,324.40 L195.97,324.36 L196.32,324.32 L196.67,324.28 L197.02,324.24 L197.36,324.20 L197.71,324.15 L198.06,324.11 L198.41,324.07 L198.76,324.03 L199.10,323.99 L199.45,323.94 L199.80,323.90" fill="none" stroke="#000" stroke-width="2.65" stroke-dasharray="8.25 3.65" stroke-dashoffset="2.61"/>
</g>
<g clip-path="url(#ctl)" fill="none" stroke-width="1.25">
<path d="M75.50,28.00 L75.88,28.93 L76.26,29.86 L76.64,30.80 L77.01,31.74 L77.38,32.68 L77.75,33.62 L78.11,34.57 L78.48,35.52 L78.84,36.47 L79.20,37.43 L79.56,38.38 L79.92,39.35 L80.27,40.31 L80.62,41.28 L80.97,42.24 L81.32,43.21 L81.67,44.19 L82.02,45.16 L82.36,46.14 L82.70,47.12 L83.05,48.10 L83.39,49.09 L83.73,50.07 L84.06,51.06 L84.40,52.05 L84.74,53.04 L85.07,54.04 L85.41,55.03 L85.74,56.03 L86.07,57.03 L86.40,58.03 L86.73,59.03 L87.06,60.03 L87.39,61.04 L87.72,62.04 L88.05,63.05 L88.38,64.06 L88.71,65.07 L89.04,66.08 L89.36,67.09 L89.69,68.10 L90.02,69.11 L90.35,70.13 L90.68,71.14 L91.00,72.16 L91.33,73.18 L91.66,74.19 L91.99,75.21 L92.32,76.23 L92.65,77.25 L92.98,78.27 L93.31,79.29 L93.64,80.31 L93.97,81.33 L94.30,82.35 L94.64,83.37 L94.97,84.39 L95.31,85.41 L95.64,86.43 L95.98,87.45 L96.32,88.47 L96.66,89.49 L97.00,90.51 L97.34,91.53 L97.69,92.55 L98.03,93.57 L98.38,94.59 L98.73,95.61 L99.08,96.63 L99.43,97.64 L99.78,98.66 L100.14,99.68 L100.50,100.69 L100.86,101.71 L101.22,102.72 L101.58,103.73 L101.95,104.74 L102.31,105.75 L102.68,106.76 L103.06,107.77 L103.43,108.77 L103.81,109.78 L104.19,110.78 L104.57,111.79 L104.95,112.79 L105.34,113.79 L105.73,114.78 L106.13,115.78 L106.52,116.77 L106.92,117.77 L107.32,118.76 L107.73,119.75 L108.14,120.73 L108.55,121.72 L108.96,122.70 L109.38,123.68 L109.80,124.66 L110.23,125.64 L110.66,126.61 L111.09,127.58 L111.52,128.55 L111.96,129.52 L112.41,130.49 L112.85,131.45 L113.30,132.41 L113.76,133.36 L114.22,134.32 L114.68,135.27 L115.15,136.22 L115.62,137.17 L116.10,138.11 L116.58,139.05 L117.06,139.99 L117.55,140.92 L118.04,141.85 L118.54,142.78 L119.04,143.70 L119.55,144.62 L120.06,145.54 L120.58,146.45 L121.10,147.36 L121.63,148.27 L122.16,149.17 L122.70,150.07 L123.24,150.97 L123.79,151.86 L124.34,152.75 L124.90,153.64 L125.46,154.52 L126.03,155.39 L126.60,156.27 L127.18,157.13 L127.77,158.00 L128.36,158.86 L128.96,159.71 L129.56,160.57 L130.17,161.41 L130.79,162.26 L131.41,163.09 L132.03,163.93 L132.67,164.76 L133.31,165.58 L133.95,166.40 L134.60,167.21 L135.26,168.02 L135.92,168.83 L136.59,169.63 L137.27,170.43 L137.95,171.22 L138.64,172.00 L139.33,172.78 L140.03,173.55 L140.74,174.32 L141.45,175.09 L142.17,175.84 L142.89,176.60 L143.62,177.34 L144.36,178.09 L145.10,178.82 L145.84,179.55 L146.59,180.28 L147.35,180.99 L148.11,181.71 L148.88,182.41 L149.65,183.11 L150.43,183.81 L151.21,184.49 L152.00,185.18 L152.80,185.85 L153.60,186.52 L154.40,187.18 L155.21,187.84 L156.03,188.49 L156.85,189.13 L157.67,189.77 L158.50,190.40 L159.34,191.02 L160.18,191.64 L161.02,192.25 L161.87,192.85 L162.73,193.44 L163.59,194.03 L164.45,194.61 L165.32,195.18 L166.19,195.75 L167.07,196.31 L167.96,196.86 L168.84,197.41 L169.73,197.94 L170.63,198.47 L171.53,198.99 L172.44,199.51 L173.35,200.01 L174.26,200.51 L175.18,201.00 L176.10,201.48 L177.03,201.96 L177.96,202.42 L178.89,202.88 L179.83,203.33 L180.78,203.77 L181.72,204.20 L182.68,204.63 L183.63,205.04 L184.59,205.45 L185.55,205.85 L186.52,206.24 L187.49,206.62 L188.46,207.00 L189.44,207.36 L190.43,207.72 L191.41,208.06 L192.40,208.40 L193.39,208.73 L194.39,209.05 L195.39,209.36 L196.39,209.66 L197.40,209.95 L198.41,210.24 L199.42,210.51 L200.44,210.77 L201.46,211.03 L202.49,211.27 L203.51,211.51 L204.54,211.73 L205.57,211.95 L206.61,212.16 L207.65,212.36 L208.69,212.56 L209.73,212.74 L210.78,212.92 L211.82,213.09 L212.87,213.26 L213.93,213.41 L214.98,213.56 L216.04,213.70 L217.10,213.84 L218.16,213.96 L219.22,214.09 L220.28,214.20 L221.35,214.31 L222.42,214.42 L223.48,214.51 L224.55,214.61 L225.62,214.69 L226.70,214.77 L227.77,214.85 L228.84,214.92 L229.92,214.99 L230.99,215.05 L232.07,215.11 L233.15,215.17 L234.22,215.22 L235.30,215.26 L236.38,215.31 L237.46,215.34 L238.54,215.38 L239.62,215.41 L240.69,215.44 L241.77,215.47 L242.85,215.50 L243.93,215.52 L245.01,215.54 L246.08,215.56 L247.16,215.57 L248.24,215.59 L249.31,215.60 L250.38,215.61 L251.46,215.62 L252.53,215.63 L253.60,215.64 L254.67,215.64 L255.74,215.65 L256.81,215.66 L257.88,215.66 L258.94,215.67 L260.00,215.67 L261.06,215.68 L262.12,215.69 L263.18,215.70 L264.24,215.70 L265.29,215.71 L266.34,215.73 L267.39,215.74 L268.44,215.75 L269.48,215.77 L270.52,215.78 L271.56,215.80 L272.60,215.82 L273.63,215.85 L274.67,215.87 L275.69,215.90 L276.72,215.94 L277.74,215.97 L278.76,216.01 L279.77,216.05 L280.79,216.10 L281.79,216.15 L282.80,216.20" stroke="#EE99AA"/>
<path d="M75.50,28.00 L75.68,29.07 L75.85,30.14 L76.03,31.21 L76.22,32.28 L76.40,33.34 L76.59,34.41 L76.78,35.47 L76.97,36.53 L77.17,37.59 L77.36,38.65 L77.56,39.70 L77.77,40.76 L77.97,41.81 L78.18,42.86 L78.40,43.91 L78.61,44.96 L78.83,46.01 L79.05,47.06 L79.27,48.10 L79.50,49.15 L79.73,50.19 L79.96,51.23 L80.20,52.27 L80.44,53.30 L80.68,54.34 L80.93,55.37 L81.17,56.41 L81.43,57.44 L81.68,58.47 L81.94,59.49 L82.20,60.52 L82.47,61.55 L82.74,62.57 L83.01,63.59 L83.29,64.61 L83.57,65.63 L83.85,66.65 L84.14,67.66 L84.43,68.67 L84.72,69.69 L85.02,70.70 L85.32,71.71 L85.63,72.71 L85.93,73.72 L86.25,74.72 L86.56,75.73 L86.88,76.73 L87.21,77.73 L87.54,78.72 L87.87,79.72 L88.21,80.71 L88.55,81.71 L88.89,82.70 L89.24,83.69 L89.59,84.67 L89.95,85.66 L90.31,86.64 L90.68,87.63 L91.05,88.61 L91.42,89.59 L91.80,90.56 L92.19,91.54 L92.57,92.51 L92.97,93.49 L93.36,94.46 L93.76,95.43 L94.17,96.39 L94.58,97.36 L94.99,98.32 L95.41,99.29 L95.84,100.25 L96.27,101.20 L96.70,102.16 L97.14,103.12 L97.58,104.07 L98.02,105.03 L98.47,105.98 L98.92,106.93 L99.38,107.88 L99.83,108.84 L100.29,109.79 L100.75,110.74 L101.21,111.69 L101.67,112.64 L102.14,113.59 L102.60,114.55 L103.07,115.50 L103.54,116.46 L104.00,117.41 L104.47,118.37 L104.93,119.33 L105.40,120.29 L105.86,121.25 L106.33,122.22 L106.79,123.18 L107.25,124.15 L107.72,125.11 L108.18,126.08 L108.64,127.05 L109.11,128.02 L109.57,128.99 L110.04,129.96 L110.51,130.93 L110.98,131.90 L111.44,132.87 L111.92,133.83 L112.39,134.80 L112.86,135.77 L113.34,136.74 L113.82,137.70 L114.30,138.66 L114.78,139.63 L115.27,140.59 L115.76,141.55 L116.25,142.50 L116.75,143.46 L117.24,144.41 L117.75,145.36 L118.25,146.31 L118.76,147.25 L119.28,148.19 L119.79,149.13 L120.32,150.07 L120.84,151.00 L121.37,151.93 L121.91,152.85 L122.45,153.77 L123.00,154.69 L123.55,155.60 L124.11,156.51 L124.67,157.41 L125.24,158.31 L125.81,159.21 L126.39,160.10 L126.98,160.98 L127.58,161.86 L128.18,162.73 L128.78,163.60 L129.40,164.46 L130.02,165.32 L130.65,166.17 L131.28,167.01 L131.93,167.85 L132.58,168.68 L133.24,169.50 L133.90,170.32 L134.57,171.13 L135.25,171.94 L135.94,172.73 L136.63,173.53 L137.33,174.31 L138.04,175.09 L138.75,175.86 L139.47,176.63 L140.19,177.39 L140.93,178.14 L141.66,178.89 L142.41,179.63 L143.16,180.36 L143.92,181.08 L144.68,181.80 L145.45,182.51 L146.23,183.22 L147.01,183.92 L147.80,184.61 L148.60,185.29 L149.40,185.97 L150.20,186.64 L151.01,187.30 L151.83,187.95 L152.65,188.60 L153.48,189.24 L154.32,189.88 L155.16,190.50 L156.00,191.12 L156.85,191.73 L157.71,192.34 L158.57,192.93 L159.44,193.52 L160.31,194.10 L161.19,194.67 L162.07,195.24 L162.96,195.80 L163.85,196.35 L164.74,196.89 L165.65,197.43 L166.55,197.95 L167.46,198.47 L168.38,198.98 L169.30,199.49 L170.22,199.98 L171.15,200.47 L172.09,200.95 L173.03,201.42 L173.97,201.88 L174.91,202.34 L175.87,202.78 L176.82,203.22 L177.78,203.65 L178.74,204.08 L179.71,204.49 L180.68,204.89 L181.66,205.29 L182.64,205.68 L183.62,206.06 L184.60,206.43 L185.59,206.79 L186.59,207.15 L187.58,207.50 L188.59,207.83 L189.59,208.16 L190.60,208.48 L191.61,208.79 L192.62,209.09 L193.64,209.39 L194.66,209.67 L195.68,209.95 L196.71,210.21 L197.74,210.47 L198.77,210.72 L199.80,210.96 L200.84,211.19 L201.88,211.41 L202.93,211.62 L203.97,211.83 L205.02,212.03 L206.07,212.21 L207.12,212.39 L208.18,212.57 L209.24,212.73 L210.30,212.89 L211.36,213.04 L212.42,213.18 L213.49,213.32 L214.55,213.45 L215.62,213.57 L216.69,213.69 L217.76,213.80 L218.84,213.90 L219.91,214.00 L220.99,214.10 L222.06,214.19 L223.14,214.27 L224.22,214.35 L225.30,214.42 L226.38,214.49 L227.46,214.55 L228.55,214.61 L229.63,214.67 L230.71,214.72 L231.80,214.77 L232.88,214.81 L233.97,214.85 L235.05,214.89 L236.14,214.92 L237.22,214.95 L238.31,214.98 L239.39,215.01 L240.48,215.03 L241.56,215.06 L242.65,215.08 L243.73,215.10 L244.81,215.11 L245.90,215.13 L246.98,215.14 L248.06,215.16 L249.14,215.17 L250.22,215.18 L251.30,215.19 L252.38,215.20 L253.45,215.21 L254.53,215.22 L255.60,215.23 L256.67,215.25 L257.75,215.26 L258.82,215.27 L259.88,215.28 L260.95,215.30 L262.01,215.32 L263.08,215.33 L264.14,215.35 L265.19,215.37 L266.25,215.40 L267.31,215.42 L268.36,215.45 L269.41,215.48 L270.45,215.52 L271.50,215.55 L272.54,215.59 L273.58,215.63 L274.62,215.68 L275.65,215.73 L276.68,215.78 L277.71,215.84 L278.73,215.91 L279.76,215.97 L280.77,216.04 L281.79,216.12 L282.80,216.20" stroke="#6699CC"/>
<path d="M75.50,28.00 L75.61,29.14 L75.71,30.28 L75.81,31.42 L75.91,32.56 L76.00,33.70 L76.09,34.84 L76.18,35.98 L76.26,37.12 L76.35,38.26 L76.43,39.41 L76.50,40.55 L76.58,41.69 L76.65,42.83 L76.72,43.97 L76.79,45.11 L76.86,46.25 L76.93,47.39 L76.99,48.54 L77.05,49.68 L77.11,50.82 L77.17,51.96 L77.23,53.10 L77.29,54.24 L77.35,55.39 L77.41,56.53 L77.46,57.67 L77.52,58.81 L77.58,59.95 L77.63,61.09 L77.69,62.24 L77.74,63.38 L77.80,64.52 L77.86,65.66 L77.91,66.80 L77.97,67.94 L78.03,69.09 L78.09,70.23 L78.15,71.37 L78.21,72.51 L78.27,73.65 L78.33,74.79 L78.40,75.93 L78.46,77.07 L78.53,78.21 L78.60,79.36 L78.67,80.50 L78.75,81.64 L78.83,82.78 L78.90,83.92 L78.99,85.06 L79.07,86.20 L79.16,87.34 L79.24,88.48 L79.34,89.62 L79.43,90.76 L79.53,91.90 L79.63,93.04 L79.74,94.17 L79.85,95.31 L79.96,96.45 L80.07,97.59 L80.19,98.73 L80.31,99.87 L80.44,101.00 L80.57,102.14 L80.70,103.28 L80.83,104.42 L80.97,105.55 L81.11,106.69 L81.26,107.82 L81.41,108.96 L81.56,110.09 L81.71,111.23 L81.87,112.36 L82.03,113.50 L82.19,114.63 L82.36,115.76 L82.53,116.89 L82.70,118.02 L82.88,119.16 L83.06,120.29 L83.24,121.42 L83.43,122.54 L83.62,123.67 L83.81,124.80 L84.01,125.93 L84.20,127.05 L84.41,128.18 L84.61,129.30 L84.82,130.43 L85.03,131.55 L85.24,132.68 L85.46,133.80 L85.68,134.92 L85.90,136.04 L86.13,137.16 L86.36,138.28 L86.59,139.39 L86.83,140.51 L87.08,141.62 L87.33,142.73 L87.60,143.84 L87.87,144.94 L88.17,146.04 L88.47,147.14 L88.79,148.23 L89.13,149.31 L89.49,150.39 L89.88,151.47 L90.28,152.53 L90.71,153.59 L91.16,154.64 L91.62,155.69 L92.11,156.73 L92.61,157.76 L93.13,158.79 L93.66,159.81 L94.20,160.83 L94.75,161.85 L95.30,162.86 L95.87,163.88 L96.43,164.88 L97.00,165.89 L97.57,166.89 L98.14,167.90 L98.70,168.90 L99.27,169.90 L99.85,170.88 L100.44,171.85 L101.05,172.79 L101.70,173.70 L102.39,174.57 L103.12,175.39 L103.91,176.16 L104.77,176.87 L105.69,177.51 L106.69,178.08 L107.74,178.61 L108.80,179.13 L109.84,179.69 L110.84,180.29 L111.80,180.94 L112.74,181.63 L113.64,182.35 L114.53,183.10 L115.40,183.87 L116.25,184.66 L117.10,185.45 L117.94,186.24 L118.78,187.03 L119.62,187.81 L120.47,188.57 L121.34,189.31 L122.22,190.02 L123.12,190.71 L124.03,191.36 L124.97,191.99 L125.91,192.59 L126.88,193.18 L127.85,193.74 L128.83,194.29 L129.83,194.83 L130.83,195.35 L131.84,195.87 L132.86,196.37 L133.88,196.88 L134.91,197.38 L135.93,197.89 L136.96,198.39 L137.99,198.90 L139.02,199.42 L140.05,199.95 L141.07,200.50 L142.09,201.05 L143.10,201.60 L144.12,202.17 L145.14,202.73 L146.15,203.29 L147.17,203.85 L148.19,204.40 L149.21,204.95 L150.23,205.48 L151.26,205.99 L152.29,206.49 L153.33,206.97 L154.37,207.42 L155.42,207.85 L156.48,208.25 L157.55,208.62 L158.62,208.96 L159.71,209.26 L160.81,209.52 L161.91,209.74 L163.03,209.93 L164.15,210.10 L165.28,210.24 L166.41,210.36 L167.55,210.46 L168.70,210.56 L169.84,210.65 L170.99,210.74 L172.13,210.83 L173.28,210.93 L174.42,211.04 L175.56,211.16 L176.70,211.28 L177.84,211.40 L178.98,211.53 L180.12,211.67 L181.25,211.81 L182.39,211.95 L183.53,212.10 L184.66,212.25 L185.80,212.40 L186.93,212.55 L188.06,212.71 L189.20,212.86 L190.33,213.01 L191.46,213.17 L192.60,213.32 L193.73,213.47 L194.86,213.62 L195.99,213.77 L197.13,213.91 L198.26,214.05 L199.39,214.19 L200.53,214.32 L201.66,214.45 L202.80,214.57 L203.93,214.69 L205.07,214.80 L206.21,214.90 L207.34,214.99 L208.48,215.08 L209.62,215.17 L210.76,215.25 L211.90,215.32 L213.04,215.39 L214.18,215.45 L215.32,215.51 L216.46,215.56 L217.60,215.61 L218.75,215.65 L219.89,215.69 L221.03,215.73 L222.18,215.76 L223.32,215.78 L224.46,215.81 L225.61,215.83 L226.75,215.84 L227.90,215.85 L229.04,215.86 L230.19,215.87 L231.33,215.87 L232.48,215.88 L233.63,215.87 L234.77,215.87 L235.92,215.87 L237.06,215.86 L238.21,215.85 L239.36,215.84 L240.50,215.83 L241.65,215.81 L242.80,215.80 L243.94,215.78 L245.09,215.77 L246.24,215.75 L247.38,215.73 L248.53,215.72 L249.68,215.70 L250.82,215.68 L251.97,215.66 L253.12,215.65 L254.26,215.63 L255.41,215.62 L256.55,215.60 L257.70,215.59 L258.84,215.58 L259.99,215.57 L261.13,215.56 L262.28,215.55 L263.42,215.54 L264.56,215.54 L265.71,215.54 L266.85,215.54 L267.99,215.54 L269.13,215.55 L270.28,215.56 L271.42,215.57 L272.56,215.59 L273.70,215.61 L274.84,215.63 L275.98,215.65 L277.12,215.68 L278.25,215.72 L279.39,215.76 L280.53,215.80 L281.66,215.85 L282.80,215.90" stroke="#FFA500"/>
</g>
<g clip-path="url(#cbr)" fill="none" stroke-width="1.25">
<path d="M283.00,326.90 L283.97,326.99 L284.94,327.07 L285.91,327.14 L286.88,327.21 L287.85,327.28 L288.82,327.34 L289.80,327.40 L290.77,327.45 L291.75,327.50 L292.72,327.54 L293.70,327.58 L294.67,327.61 L295.65,327.63 L296.63,327.65 L297.61,327.66 L298.58,327.67 L299.56,327.67 L300.54,327.66 L301.52,327.64 L302.49,327.62 L303.47,327.59 L304.44,327.56 L305.42,327.51 L306.39,327.46 L307.37,327.40 L308.34,327.33 L309.31,327.26 L310.28,327.17 L311.25,327.08 L312.22,326.98 L313.18,326.87 L314.15,326.75 L315.11,326.62 L316.07,326.48 L317.03,326.33 L317.99,326.18 L318.95,326.01 L319.90,325.84 L320.85,325.65 L321.80,325.45 L322.75,325.25 L323.69,325.03 L324.64,324.80 L325.57,324.56 L326.51,324.31 L327.44,324.05 L328.37,323.77 L329.30,323.49 L330.23,323.19 L331.15,322.89 L332.07,322.57 L332.98,322.23 L333.89,321.89 L334.80,321.53 L335.70,321.16 L336.60,320.78 L337.50,320.39 L338.39,319.98 L339.28,319.56 L340.16,319.12 L341.04,318.67 L341.92,318.21 L342.79,317.73 L343.65,317.24 L344.51,316.74 L345.37,316.22 L346.22,315.69 L347.07,315.15 L347.92,314.59 L348.76,314.03 L349.60,313.47 L350.43,312.89 L351.27,312.31 L352.10,311.73 L352.93,311.15 L353.76,310.57 L354.59,309.99 L355.43,309.41 L356.26,308.83 L357.09,308.26 L357.92,307.69 L358.75,307.13 L359.59,306.58 L360.42,306.05 L361.26,305.52 L362.11,305.00 L362.95,304.50 L363.80,304.02 L364.65,303.55 L365.51,303.10 L366.37,302.67 L367.24,302.26 L368.11,301.87 L368.99,301.51 L369.87,301.17 L370.76,300.86 L371.66,300.57 L372.56,300.32 L373.47,300.10 L374.37,299.91 L375.28,299.76 L376.19,299.66 L377.09,299.59 L377.98,299.58 L378.87,299.61 L379.75,299.70 L380.62,299.84 L381.47,300.04 L382.32,300.30 L383.14,300.62 L383.95,301.01 L384.74,301.46 L385.50,301.98 L386.25,302.55 L386.98,303.16 L387.69,303.82 L388.38,304.51 L389.05,305.23 L389.70,305.97 L390.32,306.73 L390.93,307.51 L391.52,308.30 L392.09,309.10 L392.64,309.91 L393.17,310.73 L393.68,311.56 L394.18,312.41 L394.66,313.26 L395.13,314.13 L395.58,315.00 L396.02,315.88 L396.44,316.77 L396.86,317.67 L397.26,318.57 L397.64,319.49 L398.02,320.40 L398.39,321.33 L398.74,322.26 L399.09,323.19 L399.43,324.13 L399.77,325.07 L400.09,326.02 L400.41,326.97 L400.72,327.92 L401.03,328.87 L401.33,329.83 L401.63,330.79 L401.93,331.74 L402.22,332.70 L402.51,333.66 L402.80,334.62 L403.09,335.58 L403.38,336.53 L403.67,337.48 L403.96,338.43 L404.26,339.38 L404.55,340.32 L404.85,341.27 L405.15,342.20 L405.45,343.14 L405.76,344.07 L406.07,344.99 L406.38,345.92 L406.70,346.84 L407.01,347.76 L407.33,348.67 L407.65,349.59 L407.98,350.50 L408.30,351.41 L408.63,352.31 L408.95,353.22 L409.28,354.12 L409.61,355.02 L409.95,355.93 L410.28,356.82 L410.62,357.72 L410.95,358.62 L411.29,359.52 L411.63,360.41 L411.96,361.31 L412.30,362.20 L412.64,363.10 L412.98,364.00 L413.32,364.89 L413.66,365.79 L414.00,366.68 L414.34,367.58 L414.68,368.48 L415.02,369.37 L415.37,370.27 L415.70,371.17 L416.04,372.08 L416.38,372.98 L416.72,373.88 L417.06,374.79 L417.39,375.70 L417.73,376.61 L418.06,377.52 L418.40,378.43 L418.73,379.35 L419.06,380.27 L419.39,381.19 L419.71,382.12 L420.04,383.05 L420.36,383.98 L420.68,384.92 L421.00,385.86 L421.32,386.80 L421.64,387.74 L421.96,388.69 L422.28,389.63 L422.60,390.58 L422.92,391.52 L423.25,392.47 L423.58,393.41 L423.92,394.35 L424.26,395.28 L424.61,396.22 L424.96,397.14 L425.32,398.07 L425.69,398.98 L426.08,399.89 L426.47,400.80 L426.87,401.69 L427.28,402.58 L427.71,403.46 L428.15,404.32 L428.60,405.18 L429.07,406.03 L429.55,406.86 L430.05,407.68 L430.57,408.49 L431.10,409.29 L431.65,410.06 L432.22,410.83 L432.82,411.58 L433.43,412.31 L434.06,413.02 L434.72,413.72 L435.39,414.40 L436.10,415.06 L436.82,415.70 L437.57,416.32 L438.34,416.92 L439.12,417.50 L439.93,418.06 L440.75,418.59 L441.59,419.11 L442.45,419.60 L443.32,420.07 L444.20,420.52 L445.09,420.95 L446.00,421.35 L446.91,421.73 L447.83,422.08 L448.76,422.41 L449.70,422.72 L450.64,423.00 L451.59,423.26 L452.54,423.49 L453.49,423.70 L454.44,423.88 L455.40,424.05 L456.36,424.19 L457.33,424.32 L458.30,424.42 L459.26,424.51 L460.24,424.58 L461.21,424.64 L462.18,424.69 L463.16,424.72 L464.14,424.74 L465.12,424.75 L466.10,424.75 L467.08,424.74 L468.07,424.72 L469.05,424.70 L470.03,424.67 L471.02,424.64 L472.00,424.61 L472.99,424.57 L473.97,424.53 L474.95,424.50 L475.94,424.46 L476.92,424.43 L477.90,424.40 L478.88,424.37 L479.86,424.35 L480.84,424.34 L481.81,424.33 L482.79,424.33 L483.76,424.34 L484.73,424.37 L485.70,424.40 L486.66,424.45 L487.63,424.52 L488.59,424.59 L489.55,424.69 L490.50,424.80" stroke="#EE99AA"/>
<path d="M283.00,285.50 L284.25,285.78 L285.49,286.04 L286.73,286.28 L287.97,286.50 L289.21,286.70 L290.44,286.87 L291.67,287.03 L292.90,287.17 L294.13,287.28 L295.36,287.38 L296.58,287.46 L297.81,287.52 L299.03,287.57 L300.25,287.59 L301.47,287.60 L302.69,287.60 L303.91,287.57 L305.12,287.53 L306.34,287.48 L307.56,287.41 L308.77,287.33 L309.99,287.23 L311.20,287.12 L312.41,286.99 L313.63,286.86 L314.84,286.71 L316.05,286.54 L317.27,286.37 L318.48,286.18 L319.70,285.99 L320.91,285.78 L322.13,285.56 L323.34,285.33 L324.56,285.09 L325.78,284.85 L326.99,284.59 L328.21,284.33 L329.43,284.06 L330.66,283.78 L331.88,283.49 L333.10,283.20 L334.33,282.90 L335.56,282.60 L336.78,282.28 L338.00,281.96 L339.22,281.62 L340.44,281.27 L341.65,280.91 L342.85,280.54 L344.05,280.15 L345.23,279.75 L346.41,279.33 L347.57,278.89 L348.72,278.43 L349.86,277.95 L350.99,277.45 L352.09,276.93 L353.18,276.38 L354.25,275.82 L355.30,275.22 L356.34,274.60 L357.34,273.95 L358.33,273.28 L359.29,272.57 L360.23,271.84 L361.14,271.07 L362.02,270.27 L362.88,269.44 L363.71,268.59 L364.52,267.70 L365.31,266.79 L366.09,265.86 L366.84,264.91 L367.58,263.93 L368.30,262.93 L369.00,261.92 L369.70,260.88 L370.38,259.84 L371.06,258.77 L371.72,257.70 L372.38,256.61 L373.03,255.52 L373.68,254.42 L374.33,253.30 L374.98,252.19 L375.62,251.07 L376.27,249.95 L376.92,248.82 L377.58,247.71 L378.25,246.60 L378.94,245.50 L379.66,244.43 L380.40,243.37 L381.18,242.34 L382.00,241.35 L382.86,240.39 L383.77,239.48 L384.73,238.61 L385.74,237.80 L386.78,237.09 L387.84,236.52 L388.89,236.12 L389.92,235.92 L390.91,235.97 L391.86,236.27 L392.76,236.78 L393.61,237.46 L394.43,238.27 L395.20,239.18 L395.95,240.13 L396.65,241.11 L397.33,242.11 L397.98,243.12 L398.60,244.15 L399.19,245.20 L399.75,246.26 L400.28,247.34 L400.79,248.43 L401.28,249.53 L401.74,250.65 L402.17,251.79 L402.59,252.93 L402.98,254.09 L403.36,255.25 L403.71,256.43 L404.05,257.62 L404.37,258.81 L404.67,260.02 L404.96,261.23 L405.23,262.45 L405.49,263.68 L405.74,264.91 L405.98,266.15 L406.20,267.39 L406.42,268.64 L406.63,269.89 L406.83,271.14 L407.02,272.40 L407.21,273.66 L407.39,274.92 L407.57,276.18 L407.75,277.44 L407.92,278.70 L408.10,279.96 L408.27,281.22 L408.44,282.48 L408.62,283.73 L408.80,284.98 L408.98,286.23 L409.16,287.48 L409.35,288.72 L409.54,289.96 L409.73,291.19 L409.92,292.43 L410.11,293.66 L410.31,294.89 L410.51,296.11 L410.71,297.34 L410.91,298.56 L411.12,299.78 L411.32,300.99 L411.53,302.21 L411.74,303.42 L411.95,304.64 L412.17,305.85 L412.38,307.05 L412.60,308.26 L412.82,309.47 L413.04,310.67 L413.26,311.87 L413.48,313.07 L413.71,314.27 L413.93,315.47 L414.16,316.67 L414.39,317.87 L414.62,319.06 L414.85,320.26 L415.08,321.45 L415.32,322.65 L415.55,323.84 L415.79,325.03 L416.02,326.23 L416.26,327.42 L416.50,328.61 L416.74,329.80 L416.98,330.99 L417.22,332.19 L417.47,333.38 L417.71,334.57 L417.95,335.76 L418.20,336.95 L418.45,338.15 L418.69,339.34 L418.94,340.54 L419.19,341.73 L419.43,342.93 L419.68,344.12 L419.93,345.32 L420.18,346.52 L420.43,347.71 L420.68,348.91 L420.93,350.12 L421.18,351.32 L421.44,352.52 L421.69,353.73 L421.94,354.93 L422.19,356.14 L422.44,357.35 L422.69,358.56 L422.94,359.78 L423.20,360.99 L423.45,362.21 L423.70,363.43 L423.95,364.65 L424.20,365.88 L424.45,367.10 L424.70,368.33 L424.95,369.56 L425.20,370.79 L425.45,372.03 L425.70,373.27 L425.95,374.51 L426.20,375.75 L426.45,377.00 L426.70,378.25 L426.95,379.49 L427.21,380.74 L427.47,381.98 L427.74,383.23 L428.02,384.47 L428.30,385.70 L428.59,386.94 L428.89,388.17 L429.20,389.39 L429.52,390.60 L429.86,391.81 L430.20,393.02 L430.56,394.21 L430.94,395.39 L431.33,396.57 L431.74,397.73 L432.16,398.88 L432.61,400.02 L433.07,401.15 L433.56,402.26 L434.07,403.36 L434.60,404.44 L435.15,405.51 L435.73,406.56 L436.33,407.60 L436.96,408.62 L437.61,409.61 L438.30,410.59 L439.01,411.55 L439.75,412.49 L440.53,413.40 L441.33,414.30 L442.17,415.17 L443.04,416.02 L443.95,416.84 L444.89,417.64 L445.87,418.41 L446.88,419.15 L447.93,419.86 L449.01,420.54 L450.12,421.19 L451.26,421.79 L452.41,422.34 L453.59,422.85 L454.78,423.31 L455.98,423.71 L457.19,424.05 L458.40,424.33 L459.63,424.54 L460.85,424.70 L462.08,424.80 L463.30,424.80 L464.54,424.80 L465.77,424.80 L467.01,424.78 L468.24,424.69 L469.48,424.58 L470.72,424.46 L471.96,424.33 L473.20,424.19 L474.44,424.05 L475.68,423.92 L476.93,423.80 L478.17,423.69 L479.41,423.61 L480.65,423.56 L481.89,423.54 L483.12,423.56 L484.36,423.62 L485.59,423.74 L486.82,423.91 L488.05,424.14 L489.28,424.43 L490.50,424.80" stroke="#6699CC"/>
<path d="M283.00,424.70 L284.53,424.43 L286.09,424.21 L287.67,424.04 L289.26,423.91 L290.87,423.81 L292.50,423.75 L294.15,423.71 L295.80,423.71 L297.47,423.72 L299.15,423.76 L300.84,423.81 L302.54,423.88 L304.24,423.96 L305.95,424.04 L307.67,424.12 L309.38,424.21 L311.10,424.29 L312.82,424.36 L314.54,424.42 L316.26,424.46 L317.97,424.49 L319.68,424.49 L321.38,424.47 L323.07,424.42 L324.76,424.34 L326.43,424.22 L328.10,424.06 L329.75,423.86 L331.39,423.61 L333.01,423.32 L334.62,422.97 L336.20,422.56 L337.77,422.10 L339.32,421.57 L340.85,420.97 L342.35,420.30 L343.83,419.56 L345.28,418.74 L346.70,417.86 L348.09,416.92 L349.44,415.91 L350.76,414.85 L352.03,413.74 L353.26,412.59 L354.44,411.40 L355.57,410.17 L356.65,408.92 L357.67,407.63 L358.65,406.31 L359.57,404.97 L360.45,403.60 L361.29,402.21 L362.08,400.79 L362.83,399.36 L363.54,397.90 L364.22,396.41 L364.85,394.91 L365.46,393.40 L366.03,391.86 L366.57,390.31 L367.09,388.74 L367.57,387.16 L368.04,385.57 L368.48,383.97 L368.89,382.35 L369.29,380.73 L369.68,379.10 L370.04,377.46 L370.39,375.81 L370.73,374.16 L371.07,372.51 L371.39,370.85 L371.70,369.19 L372.01,367.53 L372.32,365.87 L372.63,364.21 L372.94,362.56 L373.24,360.91 L373.55,359.26 L373.86,357.61 L374.16,355.96 L374.47,354.31 L374.78,352.67 L375.08,351.03 L375.39,349.39 L375.70,347.75 L376.00,346.11 L376.31,344.48 L376.61,342.84 L376.92,341.21 L377.22,339.58 L377.53,337.95 L377.83,336.32 L378.14,334.69 L378.44,333.06 L378.75,331.43 L379.05,329.81 L379.35,328.18 L379.66,326.56 L379.96,324.93 L380.26,323.31 L380.56,321.69 L380.86,320.06 L381.17,318.44 L381.47,316.82 L381.77,315.20 L382.06,313.58 L382.36,311.95 L382.66,310.33 L382.96,308.71 L383.26,307.09 L383.55,305.47 L383.85,303.84 L384.15,302.22 L384.44,300.60 L384.74,298.97 L385.03,297.35 L385.32,295.72 L385.61,294.10 L385.91,292.47 L386.20,290.84 L386.49,289.21 L386.79,287.58 L387.08,285.95 L387.38,284.32 L387.68,282.69 L387.98,281.06 L388.28,279.43 L388.59,277.79 L388.90,276.16 L389.22,274.52 L389.54,272.89 L389.87,271.25 L390.20,269.62 L390.53,267.98 L390.88,266.34 L391.23,264.70 L391.58,263.06 L391.95,261.42 L392.32,259.78 L392.70,258.14 L393.09,256.49 L393.48,254.85 L393.89,253.21 L394.30,251.56 L394.73,249.92 L395.17,248.27 L395.61,246.62 L396.07,244.98 L396.54,243.33 L397.04,241.70 L397.62,240.12 L398.31,238.63 L399.17,237.29 L400.24,236.17 L401.45,235.57 L402.69,235.86 L403.88,236.87 L404.93,238.18 L405.81,239.56 L406.55,241.01 L407.15,242.52 L407.63,244.07 L408.03,245.66 L408.35,247.28 L408.61,248.93 L408.84,250.59 L409.05,252.27 L409.26,253.94 L409.48,255.61 L409.70,257.28 L409.92,258.95 L410.15,260.62 L410.38,262.28 L410.61,263.95 L410.85,265.61 L411.09,267.27 L411.34,268.93 L411.58,270.59 L411.83,272.25 L412.08,273.91 L412.33,275.57 L412.59,277.22 L412.84,278.88 L413.10,280.53 L413.36,282.18 L413.62,283.83 L413.88,285.48 L414.14,287.13 L414.40,288.78 L414.66,290.43 L414.92,292.07 L415.18,293.72 L415.44,295.36 L415.70,297.01 L415.95,298.65 L416.21,300.29 L416.46,301.93 L416.71,303.57 L416.96,305.21 L417.21,306.85 L417.45,308.49 L417.70,310.12 L417.93,311.76 L418.17,313.39 L418.40,315.03 L418.63,316.66 L418.86,318.29 L419.08,319.93 L419.30,321.56 L419.51,323.19 L419.72,324.82 L419.92,326.45 L420.12,328.07 L420.31,329.70 L420.50,331.33 L420.68,332.96 L420.87,334.58 L421.05,336.21 L421.23,337.84 L421.40,339.47 L421.58,341.09 L421.76,342.72 L421.93,344.35 L422.11,345.98 L422.29,347.61 L422.48,349.25 L422.66,350.88 L422.85,352.51 L423.04,354.15 L423.24,355.79 L423.44,357.43 L423.65,359.07 L423.86,360.71 L424.08,362.36 L424.31,364.01 L424.54,365.66 L424.79,367.31 L425.04,368.97 L425.30,370.63 L425.57,372.29 L425.85,373.95 L426.15,375.62 L426.45,377.29 L426.77,378.97 L427.10,380.65 L427.44,382.33 L427.81,384.01 L428.18,385.69 L428.58,387.36 L429.00,389.02 L429.45,390.68 L429.91,392.32 L430.41,393.94 L430.94,395.55 L431.49,397.14 L432.09,398.70 L432.71,400.23 L433.38,401.74 L434.08,403.21 L434.82,404.65 L435.61,406.05 L436.44,407.41 L437.32,408.73 L438.25,410.01 L439.23,411.24 L440.26,412.41 L441.34,413.54 L442.49,414.61 L443.69,415.62 L444.95,416.57 L446.27,417.45 L447.66,418.27 L449.10,419.04 L450.59,419.74 L452.13,420.39 L453.71,420.98 L455.33,421.52 L456.99,422.01 L458.68,422.45 L460.39,422.85 L462.12,423.20 L463.87,423.51 L465.63,423.79 L467.40,424.03 L469.17,424.23 L470.94,424.40 L472.71,424.55 L474.46,424.66 L476.20,424.75 L477.92,424.80 L479.62,424.80 L481.30,424.80 L482.94,424.80 L484.54,424.80 L486.10,424.80 L487.62,424.80 L489.09,424.80 L490.50,424.80" stroke="#FFA500"/>
</g>
<rect x="75.30" y="8.30" width="207.50" height="208.20" fill="none" stroke="#1e1e1e" stroke-width="1.25"/>
<rect x="75.30" y="216.50" width="207.50" height="208.40" fill="none" stroke="#1e1e1e" stroke-width="1.25"/>
<rect x="282.80" y="216.50" width="207.70" height="208.40" fill="none" stroke="#1e1e1e" stroke-width="1.25"/>
<line x1="139.50" y1="216.50" x2="139.50" y2="212.50" stroke="#1e1e1e" stroke-width="1.25"/>
<line x1="139.50" y1="216.50" x2="139.50" y2="220.50" stroke="#1e1e1e" stroke-width="1.25"/>
<line x1="139.50" y1="424.90" x2="139.50" y2="420.90" stroke="#1e1e1e" stroke-width="1.25"/>
<line x1="204.20" y1="216.50" x2="204.20" y2="212.50" stroke="#1e1e1e" stroke-width="1.25"/>
<line x1="204.20" y1="216.50" x2="204.20" y2="220.50" stroke="#1e1e1e" stroke-width="1.25"/>
<line x1="204.20" y1="424.90" x2="204.20" y2="420.90" stroke="#1e1e1e" stroke-width="1.25"/>
<line x1="75.30" y1="251.40" x2="79.30" y2="251.40" stroke="#1e1e1e" stroke-width="1.25"/>
<line x1="282.80" y1="251.40" x2="278.80" y2="251.40" stroke="#1e1e1e" stroke-width="1.25"/>
<line x1="75.30" y1="286.20" x2="79.30" y2="286.20" stroke="#1e1e1e" stroke-width="1.25"/>
<line x1="282.80" y1="286.20" x2="278.80" y2="286.20" stroke="#1e1e1e" stroke-width="1.25"/>
<line x1="75.30" y1="320.90" x2="79.30" y2="320.90" stroke="#1e1e1e" stroke-width="1.25"/>
<line x1="282.80" y1="320.90" x2="278.80" y2="320.90" stroke="#1e1e1e" stroke-width="1.25"/>
<line x1="75.30" y1="355.60" x2="79.30" y2="355.60" stroke="#1e1e1e" stroke-width="1.25"/>
<line x1="282.80" y1="355.60" x2="278.80" y2="355.60" stroke="#1e1e1e" stroke-width="1.25"/>
<line x1="75.30" y1="390.30" x2="79.30" y2="390.30" stroke="#1e1e1e" stroke-width="1.25"/>
<line x1="282.80" y1="390.30" x2="278.80" y2="390.30" stroke="#1e1e1e" stroke-width="1.25"/>
<line x1="352.10" y1="424.90" x2="352.10" y2="420.90" stroke="#1e1e1e" stroke-width="1.25"/>
<line x1="421.30" y1="424.90" x2="421.30" y2="420.90" stroke="#1e1e1e" stroke-width="1.25"/>
<text transform="matrix(15.7600,0,0,17.2107,50.900,257.459)" font-size="1" style="font-family:'Liberation Serif',serif" fill="#000">1.5</text>
<text transform="matrix(15.6000,0,0,17.0839,51.100,292.261)" font-size="1" style="font-family:'Liberation Serif',serif" fill="#000">1.0</text>
<text transform="matrix(16.3200,0,0,17.0839,50.200,326.961)" font-size="1" style="font-family:'Liberation Serif',serif" fill="#000">0.5</text>
<text transform="matrix(16.3200,0,0,17.0839,50.200,361.661)" font-size="1" style="font-family:'Liberation Serif',serif" fill="#000">0.0</text>
<text transform="matrix(16.7200,0,0,17.3785,50.000,396.257)" font-size="1" style="font-family:'Liberation Serif',serif" fill="#000">0.5</text>
<rect x="38" y="391.7" width="10.5" height="0.9" fill="#000"/>
<text transform="matrix(16.0000,0,0,16.2003,129.300,441.273)" font-size="1" style="font-family:'Liberation Serif',serif" fill="#000">0.1</text>
<text transform="matrix(16.8000,0,0,16.2003,193.400,441.273)" font-size="1" style="font-family:'Liberation Serif',serif" fill="#000">0.2</text>
<text transform="matrix(15.2000,0,0,16.1481,348.000,441.339)" font-size="1" style="font-family:'Liberation Serif',serif" fill="#000">0</text>
<text transform="matrix(13.6000,0,0,16.2121,418.400,441.300)" font-size="1" style="font-family:'Liberation Serif',serif" fill="#000">1</text>
<path fill-rule="evenodd" fill="#000" d="M166.00,455.00 L159.50,468.50 L172.60,468.50 Z M165.62,457.29 L160.78,467.35 L170.54,467.35 Z"/>
<text transform="matrix(21.6066,0,0,19.8473,174.673,468.500)" font-size="1" style="font-family:'Liberation Serif',serif;font-style:italic" fill="#000">N</text>
<text transform="matrix(10.8033,0,0,14.4597,190.800,471.471)" font-size="1" style="font-family:'Liberation Serif',serif" fill="#000">D</text>
<text transform="matrix(16.2754,0,0,20.8791,346.500,469.890)" font-size="1" style="font-family:'Liberation Serif',serif" fill="#000">log</text>
<text transform="matrix(13.2000,0,0,12.8889,367.600,473.871)" font-size="1" style="font-family:'Liberation Serif',serif" fill="#000">10</text>
<text transform="matrix(13.2132,0,0,24.3660,383.300,470.910)" font-size="1" style="font-family:'Liberation Serif',serif" fill="#000">(</text>
<text transform="matrix(11.9593,0,0,12.1019,390.500,460.200)" font-size="1" style="font-family:'Liberation Serif',serif;font-style:italic" fill="#000">r</text>
<text transform="matrix(10.9829,0,0,7.1429,395.600,461.729)" font-size="1" style="font-family:'Liberation Serif',serif" fill="#000">DAO</text>
<rect x="390" y="462.6" width="30.1" height="0.85" fill="#000"/>
<text transform="matrix(14.7845,0,0,10.9447,391.500,472.669)" font-size="1" style="font-family:'Liberation Serif',serif" fill="#000">Mpc</text>
<text transform="matrix(12.6126,0,0,24.3660,422.900,470.910)" font-size="1" style="font-family:'Liberation Serif',serif" fill="#000">)</text>
<g transform="translate(0,362.1) rotate(-90)">
<text transform="matrix(17.7621,0,0,20.3297,0.000,22.809)" font-size="1" style="font-family:'Liberation Serif',serif" fill="#000">log</text>
<text transform="matrix(11.3000,0,0,14.0741,23.200,27.059)" font-size="1" style="font-family:'Liberation Serif',serif" fill="#000">10</text>
<text transform="matrix(15.0150,0,0,21.4994,38.300,22.621)" font-size="1" style="font-family:'Liberation Serif',serif" fill="#000">(</text>
<text transform="matrix(12.9771,0,0,9.3418,45.900,13.400)" font-size="1" style="font-family:'Liberation Serif',serif;font-style:italic" fill="#000">r</text>
<text transform="matrix(10.1523,0,0,6.5476,51.300,16.335)" font-size="1" style="font-family:'Liberation Serif',serif" fill="#000">DAO</text>
<rect x="44.8" y="16.8" width="29.8" height="0.85" fill="#000"/>
<text transform="matrix(14.3481,0,0,11.9816,47.000,27.248)" font-size="1" style="font-family:'Liberation Serif',serif" fill="#000">Mpc</text>
<text transform="matrix(13.8138,0,0,20.9482,76.900,22.638)" font-size="1" style="font-family:'Liberation Serif',serif" fill="#000">)</text>
</g>
<rect x="327.1" y="8.7" width="163.7" height="81.0" rx="2.5" fill="#fff" fill-opacity="0.8" stroke="#d0d0d0" stroke-width="1"/>
<rect x="333" y="14.70" width="36" height="13.3" fill="#EE99AA"/>
<text transform="matrix(17.4515,0,0,17.8344,382.200,28.000)" font-size="1" style="font-family:'Liberation Serif',serif;font-style:italic" fill="#000">m</text>
<text transform="matrix(11.8068,0,0,12.1345,396.897,29.915)" font-size="1" style="font-family:'Liberation Serif',serif;font-style:italic" fill="#000">p</text>
<text transform="matrix(9.6730,0,0,9.5890,403.116,31.381)" font-size="1" style="font-family:'Liberation Serif',serif;font-style:italic" fill="#000">D</text>
<rect x="417.7" y="20.80" width="11.4" height="1.05" fill="#000"/>
<rect x="417.7" y="24.50" width="11.4" height="1.05" fill="#000"/>
<text transform="matrix(11.2000,0,0,16.3636,436.200,27.800)" font-size="1" style="font-family:'Liberation Serif',serif" fill="#000" stroke="#000" stroke-width="0.0312">1</text>
<text transform="matrix(16.9889,0,0,18.0597,449.300,28.029)" font-size="1" style="font-family:'Liberation Serif',serif" fill="#000">TeV</text>
<rect x="333" y="39.95" width="36" height="13.3" fill="#6699CC"/>
<text transform="matrix(17.4515,0,0,17.8344,382.200,53.100)" font-size="1" style="font-family:'Liberation Serif',serif;font-style:italic" fill="#000">m</text>
<text transform="matrix(11.8068,0,0,12.1345,396.897,55.015)" font-size="1" style="font-family:'Liberation Serif',serif;font-style:italic" fill="#000">p</text>
<text transform="matrix(9.6730,0,0,9.5890,403.116,56.481)" font-size="1" style="font-family:'Liberation Serif',serif;font-style:italic" fill="#000">D</text>
<rect x="417.7" y="45.90" width="11.4" height="1.05" fill="#000"/>
<rect x="417.7" y="49.60" width="11.4" height="1.05" fill="#000"/>
<text transform="matrix(11.2000,0,0,16.3636,436.200,52.900)" font-size="1" style="font-family:'Liberation Serif',serif" fill="#000" stroke="#000" stroke-width="0.0312">1</text>
<text transform="matrix(16.7903,0,0,17.8730,448.800,53.132)" font-size="1" style="font-family:'Liberation Serif',serif" fill="#000">GeV</text>
<rect x="333" y="65.20" width="36" height="13.3" fill="#FFA500"/>
<text transform="matrix(17.4515,0,0,17.8344,382.200,78.200)" font-size="1" style="font-family:'Liberation Serif',serif;font-style:italic" fill="#000">m</text>
<text transform="matrix(11.8068,0,0,12.1345,396.897,80.115)" font-size="1" style="font-family:'Liberation Serif',serif;font-style:italic" fill="#000">p</text>
<text transform="matrix(9.6730,0,0,9.5890,403.116,81.581)" font-size="1" style="font-family:'Liberation Serif',serif;font-style:italic" fill="#000">D</text>
<rect x="417.7" y="71.00" width="11.4" height="1.05" fill="#000"/>
<rect x="417.7" y="74.70" width="11.4" height="1.05" fill="#000"/>
<text transform="matrix(11.2000,0,0,16.3636,436.200,78.000)" font-size="1" style="font-family:'Liberation Serif',serif" fill="#000" stroke="#000" stroke-width="0.0312">1</text>
<text transform="matrix(16.5937,0,0,18.0597,448.800,78.229)" font-size="1" style="font-family:'Liberation Serif',serif" fill="#000">MeV</text>
<rect x="302" y="97.4" width="189.2" height="50" rx="2.5" fill="#fff" fill-opacity="0.8" stroke="#d0d0d0" stroke-width="1"/>
<line x1="308" y1="109.1" x2="340.4" y2="109.1" stroke="#000" stroke-width="2.8" stroke-dasharray="8.6 3.2"/>
<text transform="matrix(16.4266,0,0,15.6250,353.500,114.544)" font-size="1" style="font-family:'Liberation Serif',serif" fill="#000">Limit</text>
<text transform="matrix(15.1079,0,0,14.9860,395.600,114.550)" font-size="1" style="font-family:'Liberation Serif',serif" fill="#000">of</text>
<text transform="matrix(15.2672,0,0,13.1635,413.500,114.700)" font-size="1" style="font-family:'Liberation Serif',serif;font-style:italic" fill="#000">r</text>
<text transform="matrix(11.8136,0,0,9.5238,420.300,116.905)" font-size="1" style="font-family:'Liberation Serif',serif" fill="#000">DAO</text>
<text transform="matrix(15.9465,0,0,15.2000,452.700,114.362)" font-size="1" style="font-family:'Liberation Serif',serif" fill="#000">prior</text>
<text transform="matrix(16.2093,0,0,14.9860,353.500,136.550)" font-size="1" style="font-family:'Liberation Serif',serif" fill="#000">for</text>
<text transform="matrix(17.5900,0,0,17.6221,377.300,136.700)" font-size="1" style="font-family:'Liberation Serif',serif;font-style:italic" fill="#000">m</text>
<text transform="matrix(11.4490,0,0,12.1345,391.675,138.415)" font-size="1" style="font-family:'Liberation Serif',serif;font-style:italic" fill="#000">p</text>
<text transform="matrix(9.2643,0,0,9.5890,397.711,139.881)" font-size="1" style="font-family:'Liberation Serif',serif;font-style:italic" fill="#000">D</text>
<rect x="409.5" y="129.5" width="11.6" height="0.9" fill="#000"/>
<rect x="409.5" y="133.2" width="11.6" height="0.9" fill="#000"/>
<text transform="matrix(9.8000,0,0,16.5152,427.500,136.500)" font-size="1" style="font-family:'Liberation Serif',serif" fill="#000" stroke="#000" stroke-width="0.0357">1</text>
<text transform="matrix(15.3285,0,0,17.7612,439.100,136.634)" font-size="1" style="font-family:'Liberation Serif',serif" fill="#000">MeV</text>
<text transform="matrix(21.5736,0,0,15.2672,387.600,174.648)" font-size="1" style="font-family:'Liberation Serif',serif;font-style:italic" fill="#000">f</text>
<text transform="matrix(11.4441,0,0,11.5677,395.437,177.477)" font-size="1" style="font-family:'Liberation Serif',serif;font-style:italic" fill="#000">D</text>
<rect x="410" y="168.8" width="11.5" height="0.8" fill="#000"/>
<rect x="410" y="172.0" width="11.5" height="0.8" fill="#000"/>
<text transform="matrix(15.2571,0,0,14.5803,425.800,175.196)" font-size="1" style="font-family:'Liberation Serif',serif" fill="#000">0.05</text>
<text transform="matrix(16.4384,0,0,14.8810,388.200,195.651)" font-size="1" style="font-family:'Liberation Serif',serif" fill="#000">P-ACT-LBS</text>
</svg>
</body></html>
